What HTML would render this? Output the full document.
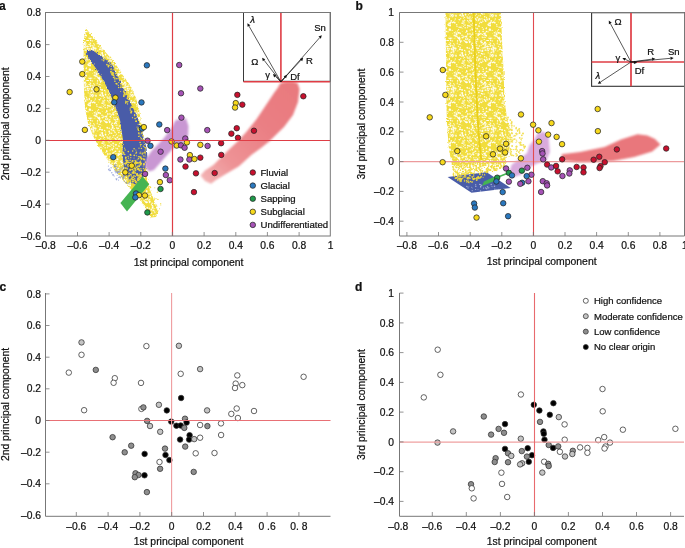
<!DOCTYPE html><html><head><meta charset="utf-8"><style>
html,body{margin:0;padding:0;background:#fff;width:685px;height:548px;overflow:hidden}
svg{display:block;will-change:transform}
text{font-family:"Liberation Sans", sans-serif;fill:#111;stroke:#111;stroke-width:0.22px}
</style></head><body>
<svg width="685" height="548" viewBox="0 0 685 548">
<defs>
<clipPath id="ca"><rect x="46" y="13" width="284" height="223"/></clipPath>
<clipPath id="cb"><rect x="400" y="13" width="284" height="223"/></clipPath>
<filter id="soft" x="-10%" y="-10%" width="120%" height="120%"><feGaussianBlur stdDeviation="0.6"/></filter>
<filter id="rough" x="-5%" y="-5%" width="110%" height="110%"><feTurbulence type="fractalNoise" baseFrequency="0.7" numOctaves="2" seed="3" result="n"/><feDisplacementMap in="SourceGraphic" in2="n" scale="3" xChannelSelector="R" yChannelSelector="G"/></filter>
<filter id="soft2" x="-10%" y="-10%" width="120%" height="120%"><feGaussianBlur stdDeviation="1.0"/></filter>
<pattern id="wsp" width="40" height="40" patternUnits="userSpaceOnUse"><circle cx="13.0" cy="6.0" r="0.73" fill="#ffffff" fill-opacity="0.85"/><circle cx="2.9" cy="21.4" r="0.58" fill="#ffffff" fill-opacity="0.85"/><circle cx="2.3" cy="20.3" r="0.42" fill="#ffffff" fill-opacity="0.85"/><circle cx="17.3" cy="2.8" r="0.45" fill="#ffffff" fill-opacity="0.85"/><circle cx="17.0" cy="33.1" r="0.46" fill="#ffffff" fill-opacity="0.85"/><circle cx="8.9" cy="25.1" r="0.87" fill="#ffffff" fill-opacity="0.85"/><circle cx="23.1" cy="15.9" r="0.89" fill="#ffffff" fill-opacity="0.85"/><circle cx="1.9" cy="34.3" r="0.54" fill="#ffffff" fill-opacity="0.85"/><circle cx="5.8" cy="4.7" r="0.55" fill="#ffffff" fill-opacity="0.85"/><circle cx="32.6" cy="7.2" r="0.69" fill="#ffffff" fill-opacity="0.85"/><circle cx="25.6" cy="14.9" r="0.67" fill="#ffffff" fill-opacity="0.85"/><circle cx="2.5" cy="2.4" r="0.50" fill="#ffffff" fill-opacity="0.85"/><circle cx="27.2" cy="17.1" r="0.56" fill="#ffffff" fill-opacity="0.85"/><circle cx="23.4" cy="18.1" r="0.55" fill="#ffffff" fill-opacity="0.85"/><circle cx="31.8" cy="28.0" r="0.52" fill="#ffffff" fill-opacity="0.85"/><circle cx="23.0" cy="21.0" r="0.84" fill="#ffffff" fill-opacity="0.85"/><circle cx="29.2" cy="11.5" r="0.89" fill="#ffffff" fill-opacity="0.85"/><circle cx="4.7" cy="16.7" r="0.78" fill="#ffffff" fill-opacity="0.85"/><circle cx="6.1" cy="19.6" r="0.42" fill="#ffffff" fill-opacity="0.85"/><circle cx="26.7" cy="30.6" r="0.69" fill="#ffffff" fill-opacity="0.85"/><circle cx="35.0" cy="12.5" r="0.75" fill="#ffffff" fill-opacity="0.85"/><circle cx="23.8" cy="23.2" r="0.63" fill="#ffffff" fill-opacity="0.85"/><circle cx="33.6" cy="37.8" r="0.64" fill="#ffffff" fill-opacity="0.85"/><circle cx="26.6" cy="2.4" r="0.75" fill="#ffffff" fill-opacity="0.85"/><circle cx="25.9" cy="39.7" r="0.81" fill="#ffffff" fill-opacity="0.85"/><circle cx="11.4" cy="15.4" r="0.73" fill="#ffffff" fill-opacity="0.85"/><circle cx="0.9" cy="18.5" r="0.48" fill="#ffffff" fill-opacity="0.85"/><circle cx="4.7" cy="2.4" r="0.78" fill="#ffffff" fill-opacity="0.85"/><circle cx="5.2" cy="9.9" r="0.60" fill="#ffffff" fill-opacity="0.85"/><circle cx="34.9" cy="3.2" r="0.62" fill="#ffffff" fill-opacity="0.85"/><circle cx="22.0" cy="35.3" r="0.81" fill="#ffffff" fill-opacity="0.85"/><circle cx="34.6" cy="11.1" r="0.61" fill="#ffffff" fill-opacity="0.85"/><circle cx="14.4" cy="35.4" r="0.88" fill="#ffffff" fill-opacity="0.85"/><circle cx="6.0" cy="7.0" r="0.52" fill="#ffffff" fill-opacity="0.85"/><circle cx="9.3" cy="19.4" r="0.69" fill="#ffffff" fill-opacity="0.85"/><circle cx="10.5" cy="0.2" r="0.61" fill="#ffffff" fill-opacity="0.85"/><circle cx="14.8" cy="22.7" r="0.88" fill="#ffffff" fill-opacity="0.85"/><circle cx="27.6" cy="20.6" r="0.71" fill="#ffffff" fill-opacity="0.85"/><circle cx="27.0" cy="2.2" r="0.85" fill="#ffffff" fill-opacity="0.85"/><circle cx="31.2" cy="35.0" r="0.80" fill="#ffffff" fill-opacity="0.85"/><circle cx="15.7" cy="16.0" r="0.45" fill="#ffffff" fill-opacity="0.85"/><circle cx="25.4" cy="2.5" r="0.43" fill="#ffffff" fill-opacity="0.85"/><circle cx="8.4" cy="6.5" r="0.57" fill="#ffffff" fill-opacity="0.85"/><circle cx="2.1" cy="0.0" r="0.48" fill="#ffffff" fill-opacity="0.85"/><circle cx="4.1" cy="14.5" r="0.41" fill="#ffffff" fill-opacity="0.85"/><circle cx="35.0" cy="24.6" r="0.47" fill="#ffffff" fill-opacity="0.85"/><circle cx="10.1" cy="13.9" r="0.58" fill="#ffffff" fill-opacity="0.85"/><circle cx="4.9" cy="34.0" r="0.90" fill="#ffffff" fill-opacity="0.85"/><circle cx="18.6" cy="19.4" r="0.44" fill="#ffffff" fill-opacity="0.85"/><circle cx="4.1" cy="13.7" r="0.53" fill="#ffffff" fill-opacity="0.85"/><circle cx="33.2" cy="6.5" r="0.41" fill="#ffffff" fill-opacity="0.85"/><circle cx="38.0" cy="21.1" r="0.47" fill="#ffffff" fill-opacity="0.85"/><circle cx="21.7" cy="1.1" r="0.66" fill="#ffffff" fill-opacity="0.85"/><circle cx="39.1" cy="34.5" r="0.75" fill="#ffffff" fill-opacity="0.85"/><circle cx="10.4" cy="14.7" r="0.48" fill="#ffffff" fill-opacity="0.85"/><circle cx="30.9" cy="21.3" r="0.79" fill="#ffffff" fill-opacity="0.85"/><circle cx="13.2" cy="8.9" r="0.81" fill="#ffffff" fill-opacity="0.85"/><circle cx="39.4" cy="34.1" r="0.80" fill="#ffffff" fill-opacity="0.85"/><circle cx="32.7" cy="29.6" r="0.51" fill="#ffffff" fill-opacity="0.85"/><circle cx="20.7" cy="14.2" r="0.41" fill="#ffffff" fill-opacity="0.85"/><circle cx="1.1" cy="11.2" r="0.53" fill="#ffffff" fill-opacity="0.85"/><circle cx="27.7" cy="38.3" r="0.62" fill="#ffffff" fill-opacity="0.85"/><circle cx="37.5" cy="39.5" r="0.88" fill="#ffffff" fill-opacity="0.85"/><circle cx="14.6" cy="8.8" r="0.51" fill="#ffffff" fill-opacity="0.85"/><circle cx="7.9" cy="8.2" r="0.71" fill="#ffffff" fill-opacity="0.85"/><circle cx="36.0" cy="33.6" r="0.64" fill="#ffffff" fill-opacity="0.85"/><circle cx="26.1" cy="32.0" r="0.44" fill="#ffffff" fill-opacity="0.85"/><circle cx="26.4" cy="36.4" r="0.79" fill="#ffffff" fill-opacity="0.85"/><circle cx="30.0" cy="19.1" r="0.49" fill="#ffffff" fill-opacity="0.85"/><circle cx="31.6" cy="13.3" r="0.80" fill="#ffffff" fill-opacity="0.85"/><circle cx="38.9" cy="15.8" r="0.60" fill="#ffffff" fill-opacity="0.85"/><circle cx="37.9" cy="29.0" r="0.49" fill="#ffffff" fill-opacity="0.85"/><circle cx="5.1" cy="6.0" r="0.85" fill="#ffffff" fill-opacity="0.85"/><circle cx="32.3" cy="5.8" r="0.81" fill="#ffffff" fill-opacity="0.85"/><circle cx="39.2" cy="26.3" r="0.58" fill="#ffffff" fill-opacity="0.85"/><circle cx="21.9" cy="5.2" r="0.41" fill="#ffffff" fill-opacity="0.85"/><circle cx="38.8" cy="26.0" r="0.66" fill="#ffffff" fill-opacity="0.85"/><circle cx="37.3" cy="17.4" r="0.84" fill="#ffffff" fill-opacity="0.85"/><circle cx="33.0" cy="8.4" r="0.53" fill="#ffffff" fill-opacity="0.85"/><circle cx="11.7" cy="9.6" r="0.69" fill="#ffffff" fill-opacity="0.85"/><circle cx="10.4" cy="16.8" r="0.47" fill="#ffffff" fill-opacity="0.85"/><circle cx="36.4" cy="14.2" r="0.63" fill="#ffffff" fill-opacity="0.85"/><circle cx="23.3" cy="36.2" r="0.61" fill="#ffffff" fill-opacity="0.85"/><circle cx="36.7" cy="20.1" r="0.67" fill="#ffffff" fill-opacity="0.85"/><circle cx="20.9" cy="0.7" r="0.62" fill="#ffffff" fill-opacity="0.85"/><circle cx="7.3" cy="0.2" r="0.80" fill="#ffffff" fill-opacity="0.85"/><circle cx="6.9" cy="18.9" r="0.76" fill="#ffffff" fill-opacity="0.85"/><circle cx="22.3" cy="13.0" r="0.66" fill="#ffffff" fill-opacity="0.85"/><circle cx="22.2" cy="31.4" r="0.45" fill="#ffffff" fill-opacity="0.85"/><circle cx="22.4" cy="9.9" r="0.54" fill="#ffffff" fill-opacity="0.85"/><circle cx="30.9" cy="20.3" r="0.68" fill="#ffffff" fill-opacity="0.85"/><circle cx="30.4" cy="36.5" r="0.62" fill="#ffffff" fill-opacity="0.85"/><circle cx="24.5" cy="20.2" r="0.66" fill="#ffffff" fill-opacity="0.85"/><circle cx="27.7" cy="18.1" r="0.67" fill="#ffffff" fill-opacity="0.85"/><circle cx="19.1" cy="37.7" r="0.75" fill="#ffffff" fill-opacity="0.85"/><circle cx="35.1" cy="37.7" r="0.53" fill="#ffffff" fill-opacity="0.85"/><circle cx="22.4" cy="37.7" r="0.82" fill="#ffffff" fill-opacity="0.85"/><circle cx="5.5" cy="4.9" r="0.62" fill="#ffffff" fill-opacity="0.85"/><circle cx="2.9" cy="9.6" r="0.44" fill="#ffffff" fill-opacity="0.85"/><circle cx="26.8" cy="31.4" r="0.85" fill="#ffffff" fill-opacity="0.85"/><circle cx="6.2" cy="28.6" r="0.73" fill="#ffffff" fill-opacity="0.85"/><circle cx="5.7" cy="35.3" r="0.88" fill="#ffffff" fill-opacity="0.85"/><circle cx="8.8" cy="38.1" r="0.60" fill="#ffffff" fill-opacity="0.85"/><circle cx="19.5" cy="39.6" r="0.82" fill="#ffffff" fill-opacity="0.85"/><circle cx="6.5" cy="17.3" r="0.66" fill="#ffffff" fill-opacity="0.85"/><circle cx="13.6" cy="7.8" r="0.56" fill="#ffffff" fill-opacity="0.85"/><circle cx="28.9" cy="0.8" r="0.68" fill="#ffffff" fill-opacity="0.85"/><circle cx="17.6" cy="0.7" r="0.57" fill="#ffffff" fill-opacity="0.85"/><circle cx="25.0" cy="20.5" r="0.43" fill="#ffffff" fill-opacity="0.85"/><circle cx="39.4" cy="31.5" r="0.89" fill="#ffffff" fill-opacity="0.85"/><circle cx="4.2" cy="10.6" r="0.42" fill="#ffffff" fill-opacity="0.85"/><circle cx="31.2" cy="10.8" r="0.46" fill="#ffffff" fill-opacity="0.85"/><circle cx="16.9" cy="36.5" r="0.81" fill="#ffffff" fill-opacity="0.85"/><circle cx="10.3" cy="6.0" r="0.86" fill="#ffffff" fill-opacity="0.85"/><circle cx="22.8" cy="28.0" r="0.44" fill="#ffffff" fill-opacity="0.85"/><circle cx="2.3" cy="27.5" r="0.61" fill="#ffffff" fill-opacity="0.85"/><circle cx="2.9" cy="37.5" r="0.72" fill="#ffffff" fill-opacity="0.85"/><circle cx="32.1" cy="3.3" r="0.83" fill="#ffffff" fill-opacity="0.85"/><circle cx="2.7" cy="34.5" r="0.63" fill="#ffffff" fill-opacity="0.85"/><circle cx="13.6" cy="22.1" r="0.86" fill="#ffffff" fill-opacity="0.85"/><circle cx="10.7" cy="5.2" r="0.66" fill="#ffffff" fill-opacity="0.85"/><circle cx="9.5" cy="4.4" r="0.48" fill="#ffffff" fill-opacity="0.85"/><circle cx="2.0" cy="8.1" r="0.56" fill="#ffffff" fill-opacity="0.85"/><circle cx="12.2" cy="30.4" r="0.54" fill="#ffffff" fill-opacity="0.85"/><circle cx="20.0" cy="7.1" r="0.57" fill="#ffffff" fill-opacity="0.85"/><circle cx="0.7" cy="10.0" r="0.41" fill="#ffffff" fill-opacity="0.85"/><circle cx="29.3" cy="22.0" r="0.49" fill="#ffffff" fill-opacity="0.85"/><circle cx="19.0" cy="37.4" r="0.45" fill="#ffffff" fill-opacity="0.85"/><circle cx="32.8" cy="17.3" r="0.65" fill="#ffffff" fill-opacity="0.85"/><circle cx="33.4" cy="15.7" r="0.65" fill="#ffffff" fill-opacity="0.85"/><circle cx="27.5" cy="39.3" r="0.57" fill="#ffffff" fill-opacity="0.85"/><circle cx="33.3" cy="28.3" r="0.72" fill="#ffffff" fill-opacity="0.85"/><circle cx="16.2" cy="13.9" r="0.43" fill="#ffffff" fill-opacity="0.85"/><circle cx="5.2" cy="2.8" r="0.77" fill="#ffffff" fill-opacity="0.85"/><circle cx="10.2" cy="6.5" r="0.44" fill="#ffffff" fill-opacity="0.85"/><circle cx="33.7" cy="34.8" r="0.74" fill="#ffffff" fill-opacity="0.85"/><circle cx="11.3" cy="9.7" r="0.55" fill="#ffffff" fill-opacity="0.85"/><circle cx="18.4" cy="6.3" r="0.62" fill="#ffffff" fill-opacity="0.85"/><circle cx="10.5" cy="38.5" r="0.89" fill="#ffffff" fill-opacity="0.85"/><circle cx="21.9" cy="9.8" r="0.88" fill="#ffffff" fill-opacity="0.85"/><circle cx="12.4" cy="14.3" r="0.40" fill="#ffffff" fill-opacity="0.85"/><circle cx="15.3" cy="19.0" r="0.65" fill="#ffffff" fill-opacity="0.85"/><circle cx="8.0" cy="20.2" r="0.40" fill="#ffffff" fill-opacity="0.85"/><circle cx="10.6" cy="3.6" r="0.60" fill="#ffffff" fill-opacity="0.85"/><circle cx="1.7" cy="0.9" r="0.55" fill="#ffffff" fill-opacity="0.85"/><circle cx="9.3" cy="23.4" r="0.66" fill="#ffffff" fill-opacity="0.85"/><circle cx="30.0" cy="26.3" r="0.76" fill="#ffffff" fill-opacity="0.85"/><circle cx="35.2" cy="15.6" r="0.56" fill="#ffffff" fill-opacity="0.85"/><circle cx="39.4" cy="6.0" r="0.76" fill="#ffffff" fill-opacity="0.85"/><circle cx="25.7" cy="1.8" r="0.82" fill="#ffffff" fill-opacity="0.85"/><circle cx="35.7" cy="25.1" r="0.77" fill="#ffffff" fill-opacity="0.85"/><circle cx="32.5" cy="5.6" r="0.66" fill="#ffffff" fill-opacity="0.85"/><circle cx="20.2" cy="33.4" r="0.80" fill="#ffffff" fill-opacity="0.85"/><circle cx="33.1" cy="23.4" r="0.85" fill="#ffffff" fill-opacity="0.85"/><circle cx="27.3" cy="27.7" r="0.51" fill="#ffffff" fill-opacity="0.85"/><circle cx="1.2" cy="5.3" r="0.58" fill="#ffffff" fill-opacity="0.85"/><circle cx="4.2" cy="33.4" r="0.68" fill="#ffffff" fill-opacity="0.85"/><circle cx="25.1" cy="25.0" r="0.74" fill="#ffffff" fill-opacity="0.85"/><circle cx="19.6" cy="0.1" r="0.80" fill="#ffffff" fill-opacity="0.85"/><circle cx="29.9" cy="20.1" r="0.67" fill="#ffffff" fill-opacity="0.85"/><circle cx="26.4" cy="2.6" r="0.77" fill="#ffffff" fill-opacity="0.85"/><circle cx="10.1" cy="3.0" r="0.53" fill="#ffffff" fill-opacity="0.85"/><circle cx="29.2" cy="8.2" r="0.77" fill="#ffffff" fill-opacity="0.85"/><circle cx="39.0" cy="19.8" r="0.59" fill="#ffffff" fill-opacity="0.85"/><circle cx="19.2" cy="27.3" r="0.78" fill="#ffffff" fill-opacity="0.85"/><circle cx="24.7" cy="25.7" r="0.44" fill="#ffffff" fill-opacity="0.85"/><circle cx="5.9" cy="10.2" r="0.77" fill="#ffffff" fill-opacity="0.85"/><circle cx="12.2" cy="22.7" r="0.41" fill="#ffffff" fill-opacity="0.85"/><circle cx="2.4" cy="10.8" r="0.74" fill="#ffffff" fill-opacity="0.85"/><circle cx="27.7" cy="27.0" r="0.55" fill="#ffffff" fill-opacity="0.85"/><circle cx="20.7" cy="18.6" r="0.63" fill="#ffffff" fill-opacity="0.85"/><circle cx="4.7" cy="35.7" r="0.50" fill="#ffffff" fill-opacity="0.85"/><circle cx="39.1" cy="37.5" r="0.41" fill="#ffffff" fill-opacity="0.85"/><circle cx="18.4" cy="32.8" r="0.88" fill="#ffffff" fill-opacity="0.85"/><circle cx="18.0" cy="10.7" r="0.50" fill="#ffffff" fill-opacity="0.85"/><circle cx="37.8" cy="8.4" r="0.69" fill="#ffffff" fill-opacity="0.85"/><circle cx="5.7" cy="21.0" r="0.88" fill="#ffffff" fill-opacity="0.85"/><circle cx="5.3" cy="32.8" r="0.65" fill="#ffffff" fill-opacity="0.85"/><circle cx="35.5" cy="28.1" r="0.52" fill="#ffffff" fill-opacity="0.85"/><circle cx="35.9" cy="19.4" r="0.41" fill="#ffffff" fill-opacity="0.85"/><circle cx="0.1" cy="19.7" r="0.63" fill="#ffffff" fill-opacity="0.85"/><circle cx="12.1" cy="5.6" r="0.57" fill="#ffffff" fill-opacity="0.85"/><circle cx="12.6" cy="33.6" r="0.40" fill="#ffffff" fill-opacity="0.85"/><circle cx="30.0" cy="33.6" r="0.46" fill="#ffffff" fill-opacity="0.85"/><circle cx="37.1" cy="28.5" r="0.85" fill="#ffffff" fill-opacity="0.85"/><circle cx="11.6" cy="14.9" r="0.60" fill="#ffffff" fill-opacity="0.85"/><circle cx="40.0" cy="23.6" r="0.58" fill="#ffffff" fill-opacity="0.85"/><circle cx="17.1" cy="11.0" r="0.42" fill="#ffffff" fill-opacity="0.85"/><circle cx="4.1" cy="33.4" r="0.54" fill="#ffffff" fill-opacity="0.85"/><circle cx="37.4" cy="10.0" r="0.53" fill="#ffffff" fill-opacity="0.85"/><circle cx="20.4" cy="7.6" r="0.59" fill="#ffffff" fill-opacity="0.85"/><circle cx="38.2" cy="35.4" r="0.81" fill="#ffffff" fill-opacity="0.85"/><circle cx="25.2" cy="36.5" r="0.87" fill="#ffffff" fill-opacity="0.85"/><circle cx="22.0" cy="28.8" r="0.42" fill="#ffffff" fill-opacity="0.85"/><circle cx="29.3" cy="18.0" r="0.78" fill="#ffffff" fill-opacity="0.85"/><circle cx="25.8" cy="11.4" r="0.42" fill="#ffffff" fill-opacity="0.85"/><circle cx="37.1" cy="5.1" r="0.64" fill="#ffffff" fill-opacity="0.85"/><circle cx="13.7" cy="11.9" r="0.77" fill="#ffffff" fill-opacity="0.85"/><circle cx="39.1" cy="10.4" r="0.73" fill="#ffffff" fill-opacity="0.85"/><circle cx="12.0" cy="22.3" r="0.60" fill="#ffffff" fill-opacity="0.85"/><circle cx="6.7" cy="6.5" r="0.50" fill="#ffffff" fill-opacity="0.85"/><circle cx="36.2" cy="19.9" r="0.51" fill="#ffffff" fill-opacity="0.85"/><circle cx="36.3" cy="39.9" r="0.62" fill="#ffffff" fill-opacity="0.85"/><circle cx="5.6" cy="7.7" r="0.45" fill="#ffffff" fill-opacity="0.85"/><circle cx="13.7" cy="3.6" r="0.52" fill="#ffffff" fill-opacity="0.85"/><circle cx="10.3" cy="22.8" r="0.84" fill="#ffffff" fill-opacity="0.85"/><circle cx="30.0" cy="16.5" r="0.61" fill="#ffffff" fill-opacity="0.85"/><circle cx="21.0" cy="15.1" r="0.57" fill="#ffffff" fill-opacity="0.85"/><circle cx="2.5" cy="11.1" r="0.88" fill="#ffffff" fill-opacity="0.85"/><circle cx="5.0" cy="20.1" r="0.71" fill="#ffffff" fill-opacity="0.85"/><circle cx="34.5" cy="8.6" r="0.54" fill="#ffffff" fill-opacity="0.85"/><circle cx="9.9" cy="16.0" r="0.62" fill="#ffffff" fill-opacity="0.85"/><circle cx="38.2" cy="33.9" r="0.84" fill="#ffffff" fill-opacity="0.85"/><circle cx="0.9" cy="1.3" r="0.75" fill="#ffffff" fill-opacity="0.85"/><circle cx="35.8" cy="18.9" r="0.69" fill="#ffffff" fill-opacity="0.85"/><circle cx="0.0" cy="15.7" r="0.86" fill="#ffffff" fill-opacity="0.85"/><circle cx="33.0" cy="34.2" r="0.89" fill="#ffffff" fill-opacity="0.85"/><circle cx="9.9" cy="4.4" r="0.48" fill="#ffffff" fill-opacity="0.85"/><circle cx="20.9" cy="27.3" r="0.87" fill="#ffffff" fill-opacity="0.85"/><circle cx="28.9" cy="25.9" r="0.78" fill="#ffffff" fill-opacity="0.85"/><circle cx="18.3" cy="22.1" r="0.42" fill="#ffffff" fill-opacity="0.85"/><circle cx="31.3" cy="9.3" r="0.86" fill="#ffffff" fill-opacity="0.85"/><circle cx="25.8" cy="12.2" r="0.46" fill="#ffffff" fill-opacity="0.85"/><circle cx="10.1" cy="25.5" r="0.75" fill="#ffffff" fill-opacity="0.85"/><circle cx="4.5" cy="2.8" r="0.66" fill="#ffffff" fill-opacity="0.85"/><circle cx="23.3" cy="15.5" r="0.51" fill="#ffffff" fill-opacity="0.85"/><circle cx="24.0" cy="0.4" r="0.55" fill="#ffffff" fill-opacity="0.85"/><circle cx="18.4" cy="38.4" r="0.72" fill="#ffffff" fill-opacity="0.85"/><circle cx="35.4" cy="19.0" r="0.52" fill="#ffffff" fill-opacity="0.85"/><circle cx="9.9" cy="38.4" r="0.75" fill="#ffffff" fill-opacity="0.85"/><circle cx="12.3" cy="0.9" r="0.65" fill="#ffffff" fill-opacity="0.85"/><circle cx="27.0" cy="16.8" r="0.53" fill="#ffffff" fill-opacity="0.85"/><circle cx="26.7" cy="37.0" r="0.51" fill="#ffffff" fill-opacity="0.85"/><circle cx="1.4" cy="13.5" r="0.61" fill="#ffffff" fill-opacity="0.85"/><circle cx="27.3" cy="7.9" r="0.80" fill="#ffffff" fill-opacity="0.85"/><circle cx="29.6" cy="20.2" r="0.50" fill="#ffffff" fill-opacity="0.85"/><circle cx="38.8" cy="12.5" r="0.81" fill="#ffffff" fill-opacity="0.85"/><circle cx="9.2" cy="8.9" r="0.78" fill="#ffffff" fill-opacity="0.85"/><circle cx="11.8" cy="38.1" r="0.65" fill="#ffffff" fill-opacity="0.85"/><circle cx="7.5" cy="8.9" r="0.61" fill="#ffffff" fill-opacity="0.85"/><circle cx="26.6" cy="38.0" r="0.47" fill="#ffffff" fill-opacity="0.85"/><circle cx="15.7" cy="8.5" r="0.89" fill="#ffffff" fill-opacity="0.85"/><circle cx="5.7" cy="2.1" r="0.43" fill="#ffffff" fill-opacity="0.85"/><circle cx="15.7" cy="35.9" r="0.84" fill="#ffffff" fill-opacity="0.85"/><circle cx="29.3" cy="39.9" r="0.87" fill="#ffffff" fill-opacity="0.85"/><circle cx="13.2" cy="7.4" r="0.87" fill="#ffffff" fill-opacity="0.85"/><circle cx="29.9" cy="1.3" r="0.73" fill="#ffffff" fill-opacity="0.85"/><circle cx="15.1" cy="15.0" r="0.57" fill="#ffffff" fill-opacity="0.85"/><circle cx="6.8" cy="0.1" r="0.54" fill="#ffffff" fill-opacity="0.85"/><circle cx="14.1" cy="38.2" r="0.46" fill="#ffffff" fill-opacity="0.85"/><circle cx="38.6" cy="8.3" r="0.58" fill="#ffffff" fill-opacity="0.85"/><circle cx="32.9" cy="32.9" r="0.62" fill="#ffffff" fill-opacity="0.85"/><circle cx="2.0" cy="18.9" r="0.59" fill="#ffffff" fill-opacity="0.85"/><circle cx="36.8" cy="7.7" r="0.58" fill="#ffffff" fill-opacity="0.85"/><circle cx="35.9" cy="1.2" r="0.61" fill="#ffffff" fill-opacity="0.85"/><circle cx="32.5" cy="30.7" r="0.42" fill="#ffffff" fill-opacity="0.85"/><circle cx="1.4" cy="2.5" r="0.86" fill="#ffffff" fill-opacity="0.85"/><circle cx="10.3" cy="29.9" r="0.85" fill="#ffffff" fill-opacity="0.85"/><circle cx="13.6" cy="10.9" r="0.88" fill="#ffffff" fill-opacity="0.85"/><circle cx="24.7" cy="10.5" r="0.76" fill="#ffffff" fill-opacity="0.85"/><circle cx="12.7" cy="11.0" r="0.40" fill="#ffffff" fill-opacity="0.85"/><circle cx="30.2" cy="36.7" r="0.72" fill="#ffffff" fill-opacity="0.85"/><circle cx="37.7" cy="1.0" r="0.52" fill="#ffffff" fill-opacity="0.85"/><circle cx="19.0" cy="38.3" r="0.88" fill="#ffffff" fill-opacity="0.85"/><circle cx="15.5" cy="10.0" r="0.61" fill="#ffffff" fill-opacity="0.85"/><circle cx="19.7" cy="37.1" r="0.49" fill="#ffffff" fill-opacity="0.85"/><circle cx="32.1" cy="29.5" r="0.81" fill="#ffffff" fill-opacity="0.85"/><circle cx="30.9" cy="24.3" r="0.56" fill="#ffffff" fill-opacity="0.85"/><circle cx="12.8" cy="14.5" r="0.79" fill="#ffffff" fill-opacity="0.85"/><circle cx="3.2" cy="7.9" r="0.78" fill="#ffffff" fill-opacity="0.85"/><circle cx="9.9" cy="2.6" r="0.42" fill="#ffffff" fill-opacity="0.85"/><circle cx="22.1" cy="13.0" r="0.89" fill="#ffffff" fill-opacity="0.85"/><circle cx="35.3" cy="39.5" r="0.53" fill="#ffffff" fill-opacity="0.85"/><circle cx="3.4" cy="3.9" r="0.65" fill="#ffffff" fill-opacity="0.85"/><circle cx="28.4" cy="17.9" r="0.52" fill="#ffffff" fill-opacity="0.85"/><circle cx="16.7" cy="24.8" r="0.74" fill="#ffffff" fill-opacity="0.85"/><circle cx="29.9" cy="33.9" r="0.73" fill="#ffffff" fill-opacity="0.85"/><circle cx="4.8" cy="33.6" r="0.55" fill="#ffffff" fill-opacity="0.85"/><circle cx="22.7" cy="14.9" r="0.77" fill="#ffffff" fill-opacity="0.85"/><circle cx="8.0" cy="9.9" r="0.52" fill="#ffffff" fill-opacity="0.85"/><circle cx="6.1" cy="35.4" r="0.69" fill="#ffffff" fill-opacity="0.85"/><circle cx="13.1" cy="15.8" r="0.90" fill="#ffffff" fill-opacity="0.85"/><circle cx="20.3" cy="9.3" r="0.80" fill="#ffffff" fill-opacity="0.85"/><circle cx="26.1" cy="39.6" r="0.45" fill="#ffffff" fill-opacity="0.85"/><circle cx="19.0" cy="32.8" r="0.82" fill="#ffffff" fill-opacity="0.85"/><circle cx="36.6" cy="1.6" r="0.55" fill="#ffffff" fill-opacity="0.85"/><circle cx="4.8" cy="7.6" r="0.89" fill="#ffffff" fill-opacity="0.85"/><circle cx="23.3" cy="37.2" r="0.59" fill="#ffffff" fill-opacity="0.85"/><circle cx="34.6" cy="18.0" r="0.53" fill="#ffffff" fill-opacity="0.85"/><circle cx="31.1" cy="37.8" r="0.45" fill="#ffffff" fill-opacity="0.85"/><circle cx="23.8" cy="24.8" r="0.51" fill="#ffffff" fill-opacity="0.85"/><circle cx="14.7" cy="5.7" r="0.50" fill="#ffffff" fill-opacity="0.85"/><circle cx="10.2" cy="24.0" r="0.73" fill="#ffffff" fill-opacity="0.85"/><circle cx="8.1" cy="0.5" r="0.56" fill="#ffffff" fill-opacity="0.85"/><circle cx="27.1" cy="7.4" r="0.56" fill="#ffffff" fill-opacity="0.85"/><circle cx="8.1" cy="31.8" r="0.67" fill="#ffffff" fill-opacity="0.85"/><circle cx="2.5" cy="4.1" r="0.60" fill="#ffffff" fill-opacity="0.85"/><circle cx="22.0" cy="25.6" r="0.45" fill="#ffffff" fill-opacity="0.85"/><circle cx="6.5" cy="27.8" r="0.60" fill="#ffffff" fill-opacity="0.85"/><circle cx="11.3" cy="12.3" r="0.88" fill="#ffffff" fill-opacity="0.85"/><circle cx="12.5" cy="22.7" r="0.58" fill="#ffffff" fill-opacity="0.85"/><circle cx="16.7" cy="34.6" r="0.90" fill="#ffffff" fill-opacity="0.85"/><circle cx="14.6" cy="7.9" r="0.76" fill="#ffffff" fill-opacity="0.85"/><circle cx="8.1" cy="0.2" r="0.85" fill="#ffffff" fill-opacity="0.85"/><circle cx="17.0" cy="32.8" r="0.60" fill="#ffffff" fill-opacity="0.85"/><circle cx="35.3" cy="18.4" r="0.48" fill="#ffffff" fill-opacity="0.85"/><circle cx="0.6" cy="22.1" r="0.72" fill="#ffffff" fill-opacity="0.85"/><circle cx="36.4" cy="3.6" r="0.71" fill="#ffffff" fill-opacity="0.85"/><circle cx="14.8" cy="20.2" r="0.47" fill="#ffffff" fill-opacity="0.85"/><circle cx="11.3" cy="20.8" r="0.86" fill="#ffffff" fill-opacity="0.85"/><circle cx="4.4" cy="19.6" r="0.80" fill="#ffffff" fill-opacity="0.85"/><circle cx="38.7" cy="7.9" r="0.46" fill="#ffffff" fill-opacity="0.85"/><circle cx="37.7" cy="39.0" r="0.64" fill="#ffffff" fill-opacity="0.85"/><circle cx="2.1" cy="37.0" r="0.59" fill="#ffffff" fill-opacity="0.85"/><circle cx="36.2" cy="24.8" r="0.81" fill="#ffffff" fill-opacity="0.85"/><circle cx="6.4" cy="31.4" r="0.51" fill="#ffffff" fill-opacity="0.85"/><circle cx="16.2" cy="33.9" r="0.81" fill="#ffffff" fill-opacity="0.85"/><circle cx="7.3" cy="8.7" r="0.60" fill="#ffffff" fill-opacity="0.85"/><circle cx="20.7" cy="15.3" r="0.46" fill="#ffffff" fill-opacity="0.85"/><circle cx="9.9" cy="29.0" r="0.85" fill="#ffffff" fill-opacity="0.85"/><circle cx="1.6" cy="22.5" r="0.78" fill="#ffffff" fill-opacity="0.85"/><circle cx="1.5" cy="33.5" r="0.46" fill="#ffffff" fill-opacity="0.85"/><circle cx="24.0" cy="22.0" r="0.71" fill="#ffffff" fill-opacity="0.85"/><circle cx="12.2" cy="16.8" r="0.69" fill="#ffffff" fill-opacity="0.85"/><circle cx="17.0" cy="26.4" r="0.62" fill="#ffffff" fill-opacity="0.85"/><circle cx="17.5" cy="0.9" r="0.71" fill="#ffffff" fill-opacity="0.85"/><circle cx="19.6" cy="9.4" r="0.78" fill="#ffffff" fill-opacity="0.85"/><circle cx="31.2" cy="18.3" r="0.49" fill="#ffffff" fill-opacity="0.85"/><circle cx="18.9" cy="4.3" r="0.46" fill="#ffffff" fill-opacity="0.85"/><circle cx="17.2" cy="3.7" r="0.62" fill="#ffffff" fill-opacity="0.85"/><circle cx="20.4" cy="1.6" r="0.72" fill="#ffffff" fill-opacity="0.85"/><circle cx="3.3" cy="29.3" r="0.79" fill="#ffffff" fill-opacity="0.85"/><circle cx="20.5" cy="2.2" r="0.65" fill="#ffffff" fill-opacity="0.85"/><circle cx="15.1" cy="38.0" r="0.47" fill="#ffffff" fill-opacity="0.85"/><circle cx="34.3" cy="39.8" r="0.77" fill="#ffffff" fill-opacity="0.85"/><circle cx="32.6" cy="7.7" r="0.89" fill="#ffffff" fill-opacity="0.85"/><circle cx="19.7" cy="38.3" r="0.86" fill="#ffffff" fill-opacity="0.85"/><circle cx="6.6" cy="31.5" r="0.87" fill="#ffffff" fill-opacity="0.85"/><circle cx="2.6" cy="14.0" r="0.78" fill="#ffffff" fill-opacity="0.85"/><circle cx="6.4" cy="35.9" r="0.54" fill="#ffffff" fill-opacity="0.85"/><circle cx="32.6" cy="5.7" r="0.65" fill="#ffffff" fill-opacity="0.85"/><circle cx="36.8" cy="8.3" r="0.53" fill="#ffffff" fill-opacity="0.85"/><circle cx="20.2" cy="12.8" r="0.42" fill="#ffffff" fill-opacity="0.85"/><circle cx="7.3" cy="6.4" r="0.87" fill="#ffffff" fill-opacity="0.85"/><circle cx="27.2" cy="35.8" r="0.48" fill="#ffffff" fill-opacity="0.85"/><circle cx="31.4" cy="4.6" r="0.67" fill="#ffffff" fill-opacity="0.85"/><circle cx="25.5" cy="14.4" r="0.84" fill="#ffffff" fill-opacity="0.85"/><circle cx="22.2" cy="23.2" r="0.84" fill="#ffffff" fill-opacity="0.85"/><circle cx="4.2" cy="39.7" r="0.71" fill="#ffffff" fill-opacity="0.85"/><circle cx="15.8" cy="31.9" r="0.53" fill="#ffffff" fill-opacity="0.85"/><circle cx="39.6" cy="23.1" r="0.58" fill="#ffffff" fill-opacity="0.85"/><circle cx="30.6" cy="17.7" r="0.49" fill="#ffffff" fill-opacity="0.85"/><circle cx="29.7" cy="1.9" r="0.81" fill="#ffffff" fill-opacity="0.85"/><circle cx="10.1" cy="25.6" r="0.89" fill="#ffffff" fill-opacity="0.85"/><circle cx="23.4" cy="26.5" r="0.56" fill="#ffffff" fill-opacity="0.85"/><circle cx="0.1" cy="1.4" r="0.47" fill="#ffffff" fill-opacity="0.85"/><circle cx="24.6" cy="17.3" r="0.66" fill="#ffffff" fill-opacity="0.85"/><circle cx="35.8" cy="5.3" r="0.51" fill="#ffffff" fill-opacity="0.85"/><circle cx="26.1" cy="0.9" r="0.40" fill="#ffffff" fill-opacity="0.85"/><circle cx="14.2" cy="4.3" r="0.58" fill="#ffffff" fill-opacity="0.85"/><circle cx="9.0" cy="23.3" r="0.69" fill="#ffffff" fill-opacity="0.85"/><circle cx="8.2" cy="25.0" r="0.64" fill="#ffffff" fill-opacity="0.85"/><circle cx="5.4" cy="37.5" r="0.52" fill="#ffffff" fill-opacity="0.85"/><circle cx="6.0" cy="3.8" r="0.72" fill="#ffffff" fill-opacity="0.85"/><circle cx="34.9" cy="31.3" r="0.60" fill="#ffffff" fill-opacity="0.85"/><circle cx="10.6" cy="0.5" r="0.72" fill="#ffffff" fill-opacity="0.85"/><circle cx="22.5" cy="14.0" r="0.72" fill="#ffffff" fill-opacity="0.85"/><circle cx="17.8" cy="37.5" r="0.77" fill="#ffffff" fill-opacity="0.85"/><circle cx="9.9" cy="36.1" r="0.42" fill="#ffffff" fill-opacity="0.85"/><circle cx="21.3" cy="16.2" r="0.52" fill="#ffffff" fill-opacity="0.85"/><circle cx="2.3" cy="31.2" r="0.41" fill="#ffffff" fill-opacity="0.85"/><circle cx="22.0" cy="37.6" r="0.47" fill="#ffffff" fill-opacity="0.85"/><circle cx="8.0" cy="24.3" r="0.65" fill="#ffffff" fill-opacity="0.85"/><circle cx="25.7" cy="32.5" r="0.49" fill="#ffffff" fill-opacity="0.85"/><circle cx="12.4" cy="12.0" r="0.42" fill="#ffffff" fill-opacity="0.85"/><circle cx="35.6" cy="31.3" r="0.76" fill="#ffffff" fill-opacity="0.85"/><circle cx="0.3" cy="33.8" r="0.77" fill="#ffffff" fill-opacity="0.85"/><circle cx="18.6" cy="29.7" r="0.63" fill="#ffffff" fill-opacity="0.85"/><circle cx="9.0" cy="4.2" r="0.52" fill="#ffffff" fill-opacity="0.85"/><circle cx="1.6" cy="13.4" r="0.77" fill="#ffffff" fill-opacity="0.85"/><circle cx="27.8" cy="33.8" r="0.76" fill="#ffffff" fill-opacity="0.85"/><circle cx="10.6" cy="22.2" r="0.62" fill="#ffffff" fill-opacity="0.85"/><circle cx="31.5" cy="20.9" r="0.53" fill="#ffffff" fill-opacity="0.85"/><circle cx="25.7" cy="38.6" r="0.51" fill="#ffffff" fill-opacity="0.85"/><circle cx="35.2" cy="0.6" r="0.53" fill="#ffffff" fill-opacity="0.85"/><circle cx="9.4" cy="29.8" r="0.87" fill="#ffffff" fill-opacity="0.85"/><circle cx="29.8" cy="13.1" r="0.84" fill="#ffffff" fill-opacity="0.85"/><circle cx="13.1" cy="9.6" r="0.85" fill="#ffffff" fill-opacity="0.85"/><circle cx="25.2" cy="27.7" r="0.73" fill="#ffffff" fill-opacity="0.85"/><circle cx="39.2" cy="18.8" r="0.82" fill="#ffffff" fill-opacity="0.85"/><circle cx="27.9" cy="34.3" r="0.62" fill="#ffffff" fill-opacity="0.85"/><circle cx="29.0" cy="22.8" r="0.55" fill="#ffffff" fill-opacity="0.85"/><circle cx="8.5" cy="24.9" r="0.44" fill="#ffffff" fill-opacity="0.85"/><circle cx="36.4" cy="5.8" r="0.41" fill="#ffffff" fill-opacity="0.85"/><circle cx="4.3" cy="37.2" r="0.57" fill="#ffffff" fill-opacity="0.85"/><circle cx="5.7" cy="1.1" r="0.42" fill="#ffffff" fill-opacity="0.85"/><circle cx="27.7" cy="25.4" r="0.75" fill="#ffffff" fill-opacity="0.85"/><circle cx="29.5" cy="2.6" r="0.70" fill="#ffffff" fill-opacity="0.85"/><circle cx="14.5" cy="32.7" r="0.81" fill="#ffffff" fill-opacity="0.85"/><circle cx="35.7" cy="2.6" r="0.83" fill="#ffffff" fill-opacity="0.85"/><circle cx="36.6" cy="37.8" r="0.45" fill="#ffffff" fill-opacity="0.85"/><circle cx="8.2" cy="4.5" r="0.42" fill="#ffffff" fill-opacity="0.85"/><circle cx="33.9" cy="32.5" r="0.72" fill="#ffffff" fill-opacity="0.85"/><circle cx="33.0" cy="25.3" r="0.54" fill="#ffffff" fill-opacity="0.85"/><circle cx="4.0" cy="3.9" r="0.78" fill="#ffffff" fill-opacity="0.85"/><circle cx="8.2" cy="12.8" r="0.61" fill="#ffffff" fill-opacity="0.85"/><circle cx="0.8" cy="10.3" r="0.54" fill="#ffffff" fill-opacity="0.85"/><circle cx="28.6" cy="14.7" r="0.56" fill="#ffffff" fill-opacity="0.85"/><circle cx="38.6" cy="20.1" r="0.83" fill="#ffffff" fill-opacity="0.85"/><circle cx="24.7" cy="1.2" r="0.61" fill="#ffffff" fill-opacity="0.85"/><circle cx="17.5" cy="30.9" r="0.57" fill="#ffffff" fill-opacity="0.85"/><circle cx="28.2" cy="21.5" r="0.51" fill="#ffffff" fill-opacity="0.85"/><circle cx="34.5" cy="3.6" r="0.81" fill="#ffffff" fill-opacity="0.85"/><circle cx="6.8" cy="0.1" r="0.50" fill="#ffffff" fill-opacity="0.85"/><circle cx="30.5" cy="39.1" r="0.40" fill="#ffffff" fill-opacity="0.85"/><circle cx="19.6" cy="19.7" r="0.80" fill="#ffffff" fill-opacity="0.85"/><circle cx="7.4" cy="19.8" r="0.57" fill="#ffffff" fill-opacity="0.85"/><circle cx="33.3" cy="10.4" r="0.87" fill="#ffffff" fill-opacity="0.85"/><circle cx="11.3" cy="8.6" r="0.75" fill="#ffffff" fill-opacity="0.85"/><circle cx="19.9" cy="4.4" r="0.72" fill="#ffffff" fill-opacity="0.85"/><circle cx="3.2" cy="31.5" r="0.75" fill="#ffffff" fill-opacity="0.85"/><circle cx="31.5" cy="25.1" r="0.58" fill="#ffffff" fill-opacity="0.85"/><circle cx="16.1" cy="15.8" r="0.85" fill="#ffffff" fill-opacity="0.85"/><circle cx="3.4" cy="35.5" r="0.41" fill="#ffffff" fill-opacity="0.85"/><circle cx="8.2" cy="10.5" r="0.85" fill="#ffffff" fill-opacity="0.85"/><circle cx="20.0" cy="15.2" r="0.84" fill="#ffffff" fill-opacity="0.85"/><circle cx="9.3" cy="18.4" r="0.67" fill="#ffffff" fill-opacity="0.85"/><circle cx="30.2" cy="30.1" r="0.72" fill="#ffffff" fill-opacity="0.85"/><circle cx="13.9" cy="13.1" r="0.48" fill="#ffffff" fill-opacity="0.85"/><circle cx="33.7" cy="26.5" r="0.77" fill="#ffffff" fill-opacity="0.85"/></pattern>
<pattern id="ysp" width="30" height="30" patternUnits="userSpaceOnUse"><circle cx="5.1" cy="13.2" r="0.79" fill="#efd93a" fill-opacity="0.9"/><circle cx="17.4" cy="3.8" r="0.63" fill="#efd93a" fill-opacity="0.9"/><circle cx="26.6" cy="7.1" r="0.50" fill="#efd93a" fill-opacity="0.9"/><circle cx="9.0" cy="21.1" r="0.82" fill="#efd93a" fill-opacity="0.9"/><circle cx="4.6" cy="4.7" r="0.52" fill="#efd93a" fill-opacity="0.9"/><circle cx="9.8" cy="15.7" r="0.48" fill="#efd93a" fill-opacity="0.9"/><circle cx="9.8" cy="5.7" r="0.89" fill="#efd93a" fill-opacity="0.9"/><circle cx="21.9" cy="3.1" r="0.88" fill="#efd93a" fill-opacity="0.9"/><circle cx="3.0" cy="11.5" r="0.89" fill="#efd93a" fill-opacity="0.9"/><circle cx="23.8" cy="22.0" r="0.62" fill="#efd93a" fill-opacity="0.9"/><circle cx="5.9" cy="19.1" r="0.45" fill="#efd93a" fill-opacity="0.9"/><circle cx="6.2" cy="11.7" r="0.42" fill="#efd93a" fill-opacity="0.9"/><circle cx="12.0" cy="23.7" r="0.75" fill="#efd93a" fill-opacity="0.9"/><circle cx="15.0" cy="19.0" r="0.63" fill="#efd93a" fill-opacity="0.9"/><circle cx="4.3" cy="18.1" r="0.60" fill="#efd93a" fill-opacity="0.9"/><circle cx="22.2" cy="27.2" r="0.62" fill="#efd93a" fill-opacity="0.9"/><circle cx="17.2" cy="22.5" r="0.61" fill="#efd93a" fill-opacity="0.9"/><circle cx="6.9" cy="21.7" r="0.84" fill="#efd93a" fill-opacity="0.9"/><circle cx="23.2" cy="21.0" r="0.83" fill="#efd93a" fill-opacity="0.9"/><circle cx="20.4" cy="19.2" r="0.63" fill="#efd93a" fill-opacity="0.9"/><circle cx="9.4" cy="18.8" r="0.45" fill="#efd93a" fill-opacity="0.9"/><circle cx="12.6" cy="23.5" r="0.76" fill="#efd93a" fill-opacity="0.9"/><circle cx="18.9" cy="7.5" r="0.61" fill="#efd93a" fill-opacity="0.9"/><circle cx="13.7" cy="18.6" r="0.60" fill="#efd93a" fill-opacity="0.9"/><circle cx="20.3" cy="27.9" r="0.49" fill="#efd93a" fill-opacity="0.9"/><circle cx="19.6" cy="23.3" r="0.59" fill="#efd93a" fill-opacity="0.9"/><circle cx="14.7" cy="29.2" r="0.42" fill="#efd93a" fill-opacity="0.9"/><circle cx="16.3" cy="4.8" r="0.79" fill="#efd93a" fill-opacity="0.9"/><circle cx="28.2" cy="15.6" r="0.45" fill="#efd93a" fill-opacity="0.9"/><circle cx="17.2" cy="16.2" r="0.76" fill="#efd93a" fill-opacity="0.9"/><circle cx="15.4" cy="19.2" r="0.81" fill="#efd93a" fill-opacity="0.9"/><circle cx="15.7" cy="12.3" r="0.87" fill="#efd93a" fill-opacity="0.9"/><circle cx="6.3" cy="20.5" r="0.60" fill="#efd93a" fill-opacity="0.9"/><circle cx="22.9" cy="3.7" r="0.89" fill="#efd93a" fill-opacity="0.9"/><circle cx="10.7" cy="1.7" r="0.54" fill="#efd93a" fill-opacity="0.9"/><circle cx="12.0" cy="0.4" r="0.61" fill="#efd93a" fill-opacity="0.9"/><circle cx="12.6" cy="20.9" r="0.58" fill="#efd93a" fill-opacity="0.9"/><circle cx="8.0" cy="6.7" r="0.77" fill="#efd93a" fill-opacity="0.9"/><circle cx="28.2" cy="15.8" r="0.51" fill="#efd93a" fill-opacity="0.9"/><circle cx="24.0" cy="11.8" r="0.51" fill="#efd93a" fill-opacity="0.9"/><circle cx="3.9" cy="23.3" r="0.80" fill="#efd93a" fill-opacity="0.9"/><circle cx="19.0" cy="14.1" r="0.68" fill="#efd93a" fill-opacity="0.9"/><circle cx="6.8" cy="28.9" r="0.58" fill="#efd93a" fill-opacity="0.9"/><circle cx="19.2" cy="24.6" r="0.81" fill="#efd93a" fill-opacity="0.9"/><circle cx="14.0" cy="8.8" r="0.67" fill="#efd93a" fill-opacity="0.9"/><circle cx="3.8" cy="25.0" r="0.58" fill="#efd93a" fill-opacity="0.9"/><circle cx="25.5" cy="8.0" r="0.59" fill="#efd93a" fill-opacity="0.9"/><circle cx="7.6" cy="12.8" r="0.49" fill="#efd93a" fill-opacity="0.9"/><circle cx="0.1" cy="21.7" r="0.54" fill="#efd93a" fill-opacity="0.9"/><circle cx="7.3" cy="9.1" r="0.64" fill="#efd93a" fill-opacity="0.9"/><circle cx="12.9" cy="19.1" r="0.73" fill="#efd93a" fill-opacity="0.9"/><circle cx="10.9" cy="27.9" r="0.83" fill="#efd93a" fill-opacity="0.9"/><circle cx="1.7" cy="24.8" r="0.85" fill="#efd93a" fill-opacity="0.9"/><circle cx="23.5" cy="4.2" r="0.82" fill="#efd93a" fill-opacity="0.9"/><circle cx="19.0" cy="0.4" r="0.41" fill="#efd93a" fill-opacity="0.9"/></pattern>
<pattern id="ysp2" width="30" height="30" patternUnits="userSpaceOnUse"><circle cx="28.6" cy="19.7" r="0.50" fill="#f0dc48" fill-opacity="0.9"/><circle cx="3.0" cy="4.3" r="0.49" fill="#f0dc48" fill-opacity="0.9"/><circle cx="23.3" cy="10.4" r="0.46" fill="#f0dc48" fill-opacity="0.9"/><circle cx="27.1" cy="23.8" r="0.47" fill="#f0dc48" fill-opacity="0.9"/><circle cx="26.7" cy="18.3" r="0.71" fill="#f0dc48" fill-opacity="0.9"/><circle cx="20.1" cy="26.8" r="0.72" fill="#f0dc48" fill-opacity="0.9"/><circle cx="25.2" cy="5.9" r="0.68" fill="#f0dc48" fill-opacity="0.9"/><circle cx="15.9" cy="22.3" r="0.58" fill="#f0dc48" fill-opacity="0.9"/><circle cx="26.5" cy="16.7" r="0.51" fill="#f0dc48" fill-opacity="0.9"/><circle cx="7.0" cy="4.2" r="0.60" fill="#f0dc48" fill-opacity="0.9"/><circle cx="1.8" cy="14.0" r="0.46" fill="#f0dc48" fill-opacity="0.9"/><circle cx="14.7" cy="14.9" r="0.62" fill="#f0dc48" fill-opacity="0.9"/><circle cx="25.9" cy="0.2" r="0.74" fill="#f0dc48" fill-opacity="0.9"/><circle cx="14.0" cy="16.9" r="0.67" fill="#f0dc48" fill-opacity="0.9"/><circle cx="25.2" cy="11.2" r="0.57" fill="#f0dc48" fill-opacity="0.9"/><circle cx="28.8" cy="2.3" r="0.65" fill="#f0dc48" fill-opacity="0.9"/><circle cx="19.1" cy="0.9" r="0.64" fill="#f0dc48" fill-opacity="0.9"/><circle cx="20.5" cy="27.9" r="0.53" fill="#f0dc48" fill-opacity="0.9"/><circle cx="29.5" cy="15.3" r="0.59" fill="#f0dc48" fill-opacity="0.9"/><circle cx="26.9" cy="1.0" r="0.69" fill="#f0dc48" fill-opacity="0.9"/><circle cx="18.8" cy="10.2" r="0.74" fill="#f0dc48" fill-opacity="0.9"/><circle cx="11.0" cy="14.2" r="0.61" fill="#f0dc48" fill-opacity="0.9"/><circle cx="23.1" cy="6.3" r="0.57" fill="#f0dc48" fill-opacity="0.9"/><circle cx="12.7" cy="16.6" r="0.73" fill="#f0dc48" fill-opacity="0.9"/><circle cx="8.8" cy="24.8" r="0.56" fill="#f0dc48" fill-opacity="0.9"/><circle cx="15.1" cy="8.2" r="0.60" fill="#f0dc48" fill-opacity="0.9"/><circle cx="29.2" cy="19.6" r="0.72" fill="#f0dc48" fill-opacity="0.9"/><circle cx="9.9" cy="9.5" r="0.52" fill="#f0dc48" fill-opacity="0.9"/><circle cx="17.6" cy="19.0" r="0.71" fill="#f0dc48" fill-opacity="0.9"/><circle cx="1.2" cy="21.7" r="0.75" fill="#f0dc48" fill-opacity="0.9"/></pattern>
<linearGradient id="redg" x1="0" y1="1" x2="1" y2="0">
<stop offset="0" stop-color="#f4b8b8"/><stop offset="0.25" stop-color="#ee9396"/><stop offset="0.6" stop-color="#ea7f84"/><stop offset="1" stop-color="#e9797d"/>
</linearGradient>
</defs>

<g clip-path="url(#ca)">
<path d="M86,28.5 L93,37 L101,47 L108,55 L115,63 L122,74 L131,86.5 L136,98 L139,110 L141,122 L143,135 L145,150 L146,165 L147,178 L150,190 L154,200 L158,212 L156,217 L151,217.5 L147,211 L141,201 L131,190 L122,179 L114,169 L105,156 L99,147 L93,136 L88,123 L85,108 L84,90 L83.5,60 L84,38 Z" fill="#f1dd3e" filter="url(#rough)"/>
<path d="M86,28.5 L93,37 L101,47 L108,55 L115,63 L122,74 L131,86.5 L136,98 L139,110 L141,122 L143,135 L145,150 L146,165 L147,178 L150,190 L154,200 L158,212 L156,217 L151,217.5 L147,211 L141,201 L131,190 L122,179 L114,169 L105,156 L99,147 L93,136 L88,123 L85,108 L84,90 L83.5,60 L84,38 Z" fill="url(#wsp)"/>
<g fill="#f0dc40" fill-opacity="1.0"><circle cx="156.5" cy="205.1" r="0.64"/><circle cx="160.7" cy="203.7" r="0.59"/><circle cx="156.8" cy="206.2" r="0.58"/><circle cx="157.5" cy="192.2" r="0.60"/><circle cx="154.4" cy="208.1" r="0.43"/><circle cx="150.5" cy="187.1" r="0.63"/><circle cx="160.8" cy="205.0" r="0.51"/><circle cx="159.5" cy="208.8" r="0.57"/><circle cx="151.6" cy="194.8" r="0.53"/><circle cx="152.5" cy="198.5" r="0.59"/><circle cx="156.1" cy="212.6" r="0.53"/><circle cx="156.3" cy="213.2" r="0.69"/><circle cx="154.7" cy="198.0" r="0.43"/><circle cx="157.0" cy="192.2" r="0.45"/><circle cx="148.2" cy="186.1" r="0.61"/><circle cx="149.8" cy="186.5" r="0.62"/><circle cx="150.6" cy="187.5" r="0.63"/><circle cx="158.0" cy="210.8" r="0.62"/><circle cx="157.9" cy="199.4" r="0.68"/><circle cx="154.8" cy="187.7" r="0.51"/><circle cx="156.0" cy="198.7" r="0.60"/><circle cx="153.1" cy="204.7" r="0.59"/></g>
<path d="M85.7,54 L88,51 L93,50.5 L101,56.3 L109,62 L113,66 L116,73 L119,80 L123,88 L128,97 L131.5,105 L136,114 L139,122 L143,135 L146.5,148 L147.5,158 L145,170 L142,180 L139,187 L134,186 L128,179 L124,168 L122.5,155 L123,140 L120,120 L115,105.3 L108,89 L99,73 L91,61 Z" fill="#4a5ca8" filter="url(#rough)"/>
<g fill="#efd93a" fill-opacity="1.0"><circle cx="131.5" cy="111.4" r="0.86"/><circle cx="139.2" cy="130.2" r="0.77"/><circle cx="137.1" cy="127.0" r="0.59"/><circle cx="103.8" cy="60.7" r="0.72"/><circle cx="143.6" cy="139.7" r="0.53"/><circle cx="144.4" cy="147.2" r="0.59"/><circle cx="141.6" cy="133.0" r="0.52"/><circle cx="136.2" cy="121.3" r="0.76"/><circle cx="114.9" cy="79.6" r="0.55"/><circle cx="111.0" cy="69.2" r="0.77"/><circle cx="143.0" cy="135.7" r="0.86"/><circle cx="120.8" cy="87.3" r="0.83"/><circle cx="145.6" cy="147.8" r="0.87"/><circle cx="128.0" cy="101.6" r="0.61"/><circle cx="112.2" cy="73.1" r="0.83"/><circle cx="108.4" cy="65.4" r="0.60"/><circle cx="124.2" cy="92.4" r="0.88"/><circle cx="144.1" cy="142.0" r="0.60"/><circle cx="140.7" cy="137.4" r="0.51"/><circle cx="123.9" cy="95.9" r="0.88"/><circle cx="118.7" cy="82.5" r="0.60"/><circle cx="128.2" cy="99.1" r="0.62"/><circle cx="123.6" cy="91.3" r="0.73"/><circle cx="125.6" cy="101.2" r="0.61"/><circle cx="131.1" cy="112.7" r="0.84"/><circle cx="136.1" cy="121.2" r="0.87"/><circle cx="126.9" cy="101.8" r="0.89"/><circle cx="126.3" cy="94.4" r="0.81"/><circle cx="114.0" cy="69.3" r="0.73"/><circle cx="138.8" cy="133.1" r="0.88"/><circle cx="140.5" cy="144.7" r="0.69"/><circle cx="120.7" cy="91.5" r="0.52"/><circle cx="141.3" cy="131.1" r="0.62"/><circle cx="111.2" cy="72.0" r="0.64"/><circle cx="111.3" cy="73.6" r="0.61"/><circle cx="116.9" cy="78.7" r="0.74"/><circle cx="130.2" cy="108.2" r="0.62"/><circle cx="114.3" cy="76.8" r="0.55"/><circle cx="108.4" cy="66.6" r="0.87"/><circle cx="101.9" cy="59.7" r="0.56"/><circle cx="111.2" cy="66.2" r="0.82"/><circle cx="132.5" cy="117.7" r="0.60"/><circle cx="116.2" cy="83.5" r="0.85"/><circle cx="127.5" cy="98.4" r="0.81"/><circle cx="112.9" cy="74.1" r="0.78"/><circle cx="111.3" cy="68.8" r="0.51"/><circle cx="113.6" cy="73.1" r="0.76"/><circle cx="138.2" cy="124.3" r="0.63"/><circle cx="139.3" cy="128.4" r="0.67"/><circle cx="123.7" cy="94.8" r="0.64"/><circle cx="116.0" cy="74.0" r="0.53"/><circle cx="131.1" cy="112.0" r="0.62"/><circle cx="135.1" cy="118.6" r="0.83"/><circle cx="140.1" cy="127.2" r="0.75"/><circle cx="140.1" cy="142.4" r="0.77"/><circle cx="125.3" cy="93.3" r="0.52"/><circle cx="116.9" cy="78.4" r="0.59"/><circle cx="107.8" cy="62.1" r="0.62"/><circle cx="134.5" cy="115.7" r="0.66"/><circle cx="134.9" cy="115.1" r="0.62"/><circle cx="139.7" cy="136.0" r="0.61"/><circle cx="127.5" cy="97.7" r="0.73"/><circle cx="140.6" cy="146.1" r="0.51"/><circle cx="112.6" cy="72.3" r="0.61"/><circle cx="103.2" cy="60.0" r="0.70"/><circle cx="118.4" cy="85.3" r="0.67"/><circle cx="111.0" cy="71.9" r="0.83"/><circle cx="114.9" cy="78.2" r="0.83"/><circle cx="127.3" cy="98.6" r="0.68"/><circle cx="131.3" cy="107.0" r="0.81"/><circle cx="125.6" cy="103.0" r="0.67"/><circle cx="139.9" cy="129.8" r="0.84"/><circle cx="111.8" cy="74.6" r="0.52"/><circle cx="124.5" cy="93.6" r="0.73"/><circle cx="114.9" cy="81.2" r="0.82"/><circle cx="113.6" cy="75.4" r="0.84"/><circle cx="109.5" cy="65.3" r="0.54"/><circle cx="113.5" cy="77.4" r="0.73"/><circle cx="141.1" cy="133.8" r="0.59"/><circle cx="127.4" cy="98.4" r="0.51"/><circle cx="138.7" cy="136.4" r="0.69"/><circle cx="106.9" cy="64.6" r="0.85"/><circle cx="136.1" cy="121.4" r="0.52"/><circle cx="134.6" cy="114.5" r="0.58"/><circle cx="143.1" cy="139.2" r="0.80"/><circle cx="138.3" cy="129.8" r="0.74"/><circle cx="121.0" cy="86.9" r="0.59"/><circle cx="131.4" cy="107.3" r="0.68"/><circle cx="134.4" cy="115.0" r="0.61"/><circle cx="125.0" cy="94.7" r="0.89"/><circle cx="138.0" cy="129.0" r="0.64"/><circle cx="144.5" cy="144.5" r="0.57"/><circle cx="112.3" cy="74.8" r="0.86"/><circle cx="114.5" cy="70.0" r="0.80"/><circle cx="138.9" cy="128.5" r="0.84"/><circle cx="141.3" cy="138.7" r="0.80"/><circle cx="138.6" cy="130.4" r="0.71"/><circle cx="115.7" cy="73.5" r="0.66"/><circle cx="113.0" cy="73.9" r="0.79"/><circle cx="123.7" cy="96.4" r="0.58"/><circle cx="141.4" cy="130.0" r="0.68"/><circle cx="125.9" cy="102.7" r="0.58"/><circle cx="143.5" cy="146.2" r="0.67"/><circle cx="138.2" cy="128.3" r="0.69"/><circle cx="112.1" cy="70.1" r="0.51"/><circle cx="140.9" cy="140.3" r="0.50"/><circle cx="139.1" cy="134.0" r="0.54"/><circle cx="116.9" cy="83.9" r="0.80"/><circle cx="127.5" cy="103.9" r="0.68"/><circle cx="142.0" cy="133.0" r="0.79"/><circle cx="140.9" cy="129.1" r="0.71"/><circle cx="108.2" cy="65.2" r="0.62"/><circle cx="136.9" cy="117.7" r="0.61"/><circle cx="130.3" cy="110.0" r="0.76"/><circle cx="109.8" cy="63.6" r="0.61"/><circle cx="120.8" cy="85.2" r="0.58"/><circle cx="118.7" cy="87.6" r="0.77"/><circle cx="110.8" cy="71.4" r="0.73"/><circle cx="141.3" cy="144.5" r="0.58"/><circle cx="128.7" cy="99.4" r="0.77"/></g>
<g fill="#efd93a" fill-opacity="1.0"><circle cx="141.4" cy="148.4" r="0.71"/><circle cx="138.6" cy="175.7" r="0.79"/><circle cx="141.1" cy="157.1" r="0.69"/><circle cx="145.0" cy="156.1" r="0.68"/><circle cx="128.3" cy="176.7" r="0.66"/><circle cx="138.3" cy="177.9" r="0.56"/><circle cx="128.1" cy="156.4" r="0.62"/><circle cx="123.8" cy="153.3" r="0.68"/><circle cx="132.7" cy="151.0" r="0.76"/><circle cx="144.7" cy="170.5" r="0.66"/><circle cx="139.2" cy="165.1" r="0.58"/><circle cx="134.1" cy="148.7" r="0.80"/><circle cx="126.7" cy="162.4" r="0.93"/><circle cx="140.6" cy="180.6" r="0.79"/><circle cx="137.6" cy="175.5" r="0.93"/><circle cx="127.5" cy="177.9" r="0.64"/><circle cx="128.9" cy="180.0" r="0.77"/><circle cx="136.5" cy="155.7" r="0.51"/><circle cx="135.3" cy="176.3" r="0.62"/><circle cx="124.6" cy="148.2" r="0.58"/><circle cx="139.0" cy="148.2" r="0.60"/><circle cx="129.1" cy="175.7" r="0.94"/><circle cx="123.4" cy="152.5" r="0.92"/><circle cx="145.3" cy="153.8" r="0.65"/><circle cx="135.0" cy="160.5" r="0.69"/><circle cx="134.0" cy="158.1" r="0.52"/><circle cx="124.9" cy="154.3" r="0.54"/><circle cx="137.4" cy="175.2" r="0.62"/><circle cx="141.2" cy="176.4" r="0.65"/><circle cx="134.3" cy="155.3" r="0.92"/><circle cx="135.9" cy="150.0" r="0.57"/><circle cx="138.9" cy="163.0" r="0.82"/><circle cx="128.3" cy="179.1" r="0.86"/><circle cx="125.2" cy="170.9" r="0.59"/><circle cx="139.3" cy="179.4" r="0.86"/><circle cx="128.3" cy="151.6" r="0.80"/><circle cx="136.0" cy="153.4" r="0.59"/><circle cx="136.4" cy="152.2" r="0.79"/><circle cx="128.5" cy="158.1" r="0.69"/><circle cx="135.3" cy="176.3" r="0.51"/><circle cx="139.7" cy="156.6" r="0.63"/><circle cx="137.7" cy="175.0" r="0.78"/><circle cx="143.7" cy="156.0" r="0.64"/><circle cx="138.2" cy="158.2" r="0.57"/><circle cx="128.2" cy="178.1" r="0.87"/><circle cx="139.5" cy="185.4" r="0.86"/><circle cx="130.1" cy="160.3" r="0.82"/><circle cx="125.1" cy="149.9" r="0.73"/><circle cx="143.2" cy="166.0" r="0.59"/><circle cx="125.8" cy="167.8" r="0.73"/><circle cx="131.3" cy="175.9" r="0.74"/><circle cx="140.8" cy="152.1" r="0.53"/><circle cx="131.9" cy="166.9" r="0.61"/><circle cx="138.4" cy="156.7" r="0.64"/><circle cx="134.0" cy="175.8" r="0.85"/><circle cx="131.5" cy="165.4" r="0.92"/><circle cx="144.5" cy="172.1" r="0.55"/><circle cx="133.5" cy="172.8" r="0.63"/><circle cx="143.9" cy="153.0" r="0.71"/><circle cx="137.2" cy="159.7" r="0.53"/><circle cx="140.3" cy="178.1" r="0.70"/><circle cx="125.0" cy="163.4" r="0.54"/><circle cx="145.2" cy="150.0" r="0.63"/><circle cx="140.7" cy="153.3" r="0.55"/><circle cx="124.6" cy="154.4" r="0.74"/><circle cx="142.2" cy="154.6" r="0.58"/><circle cx="140.6" cy="164.6" r="0.65"/><circle cx="125.8" cy="157.5" r="0.94"/><circle cx="125.7" cy="158.1" r="0.83"/><circle cx="133.9" cy="185.3" r="0.77"/><circle cx="129.6" cy="166.1" r="0.82"/><circle cx="139.9" cy="153.1" r="0.59"/><circle cx="145.0" cy="152.2" r="0.87"/><circle cx="130.8" cy="157.7" r="0.61"/><circle cx="130.4" cy="154.7" r="0.84"/><circle cx="130.9" cy="155.3" r="0.69"/><circle cx="141.9" cy="181.7" r="0.76"/><circle cx="137.0" cy="183.1" r="0.93"/><circle cx="130.5" cy="181.1" r="0.87"/><circle cx="129.1" cy="162.3" r="0.67"/><circle cx="131.1" cy="162.8" r="0.55"/><circle cx="132.4" cy="172.8" r="0.90"/><circle cx="140.4" cy="157.5" r="0.91"/><circle cx="139.7" cy="177.4" r="0.87"/><circle cx="128.8" cy="173.6" r="0.67"/><circle cx="142.3" cy="153.2" r="0.74"/><circle cx="130.7" cy="180.0" r="0.66"/><circle cx="142.4" cy="181.1" r="0.90"/><circle cx="140.1" cy="174.4" r="0.79"/><circle cx="135.6" cy="165.8" r="0.65"/></g>
<g fill="#efd93a" fill-opacity="1.0"><circle cx="140.8" cy="181.5" r="0.99"/><circle cx="127.1" cy="168.2" r="0.71"/><circle cx="124.4" cy="167.8" r="0.61"/><circle cx="141.1" cy="164.8" r="0.63"/><circle cx="126.8" cy="171.9" r="0.78"/><circle cx="141.3" cy="186.6" r="0.74"/><circle cx="137.2" cy="184.8" r="0.81"/><circle cx="135.8" cy="161.2" r="0.86"/><circle cx="141.9" cy="173.6" r="0.82"/><circle cx="132.0" cy="184.4" r="0.90"/><circle cx="127.0" cy="168.9" r="0.76"/><circle cx="132.4" cy="179.5" r="0.79"/><circle cx="124.2" cy="173.7" r="0.97"/><circle cx="140.9" cy="168.7" r="0.70"/><circle cx="139.9" cy="182.1" r="0.70"/><circle cx="132.4" cy="169.4" r="0.92"/><circle cx="144.3" cy="164.1" r="0.74"/><circle cx="129.9" cy="180.0" r="0.68"/><circle cx="135.1" cy="173.0" r="0.90"/><circle cx="141.1" cy="163.5" r="1.01"/><circle cx="135.2" cy="180.8" r="0.99"/><circle cx="134.1" cy="185.0" r="1.01"/><circle cx="144.9" cy="173.3" r="1.02"/><circle cx="135.4" cy="162.3" r="0.88"/><circle cx="141.3" cy="170.7" r="0.87"/><circle cx="128.2" cy="166.3" r="0.79"/><circle cx="134.3" cy="172.0" r="0.64"/><circle cx="122.1" cy="168.2" r="0.92"/><circle cx="140.0" cy="165.1" r="0.72"/><circle cx="134.4" cy="163.3" r="0.87"/><circle cx="143.7" cy="164.1" r="0.86"/><circle cx="139.3" cy="180.5" r="0.92"/><circle cx="139.1" cy="166.2" r="0.98"/><circle cx="144.2" cy="159.6" r="1.02"/><circle cx="132.6" cy="160.6" r="0.63"/><circle cx="141.1" cy="178.3" r="0.66"/><circle cx="133.0" cy="177.2" r="1.05"/><circle cx="130.1" cy="181.0" r="0.71"/><circle cx="126.8" cy="162.8" r="0.78"/><circle cx="136.8" cy="167.1" r="0.67"/><circle cx="127.2" cy="160.5" r="0.69"/><circle cx="129.6" cy="173.1" r="0.68"/><circle cx="133.5" cy="171.2" r="1.04"/><circle cx="133.7" cy="186.3" r="0.81"/><circle cx="126.8" cy="175.8" r="0.67"/><circle cx="126.1" cy="160.2" r="0.92"/><circle cx="145.2" cy="170.1" r="0.76"/><circle cx="132.2" cy="168.6" r="0.91"/><circle cx="131.4" cy="162.6" r="0.99"/><circle cx="142.4" cy="179.9" r="0.76"/><circle cx="137.1" cy="185.6" r="0.78"/><circle cx="132.4" cy="166.9" r="0.85"/><circle cx="137.9" cy="180.1" r="1.03"/><circle cx="125.5" cy="169.0" r="0.98"/><circle cx="141.0" cy="175.7" r="0.90"/><circle cx="135.2" cy="170.1" r="0.68"/><circle cx="141.2" cy="158.8" r="0.75"/><circle cx="133.5" cy="172.9" r="0.76"/><circle cx="143.5" cy="168.5" r="0.84"/><circle cx="133.4" cy="168.0" r="0.77"/><circle cx="136.6" cy="181.6" r="0.72"/><circle cx="130.9" cy="169.6" r="0.76"/><circle cx="143.9" cy="174.2" r="0.72"/><circle cx="130.0" cy="182.6" r="0.67"/><circle cx="138.6" cy="158.7" r="0.69"/><circle cx="125.5" cy="164.8" r="0.63"/><circle cx="128.3" cy="180.0" r="0.92"/><circle cx="135.2" cy="185.7" r="0.64"/><circle cx="144.2" cy="171.0" r="0.69"/><circle cx="140.0" cy="183.8" r="0.77"/><circle cx="140.1" cy="175.9" r="1.04"/><circle cx="139.0" cy="176.9" r="0.65"/><circle cx="125.9" cy="163.4" r="0.87"/><circle cx="138.1" cy="187.1" r="0.76"/><circle cx="145.5" cy="171.0" r="0.78"/><circle cx="128.1" cy="165.0" r="1.04"/><circle cx="126.2" cy="163.4" r="0.67"/><circle cx="130.4" cy="180.1" r="0.63"/><circle cx="134.7" cy="178.4" r="0.62"/><circle cx="132.5" cy="181.7" r="0.86"/><circle cx="132.8" cy="184.4" r="0.87"/><circle cx="130.1" cy="169.9" r="1.02"/><circle cx="135.5" cy="162.3" r="0.68"/><circle cx="131.2" cy="178.7" r="0.60"/><circle cx="141.2" cy="181.6" r="0.83"/><circle cx="131.9" cy="178.1" r="0.86"/><circle cx="139.5" cy="170.3" r="1.03"/><circle cx="136.8" cy="167.5" r="0.77"/><circle cx="141.0" cy="181.6" r="0.97"/><circle cx="129.6" cy="180.7" r="0.72"/><circle cx="136.7" cy="162.8" r="0.99"/><circle cx="133.7" cy="166.3" r="1.02"/><circle cx="140.2" cy="162.5" r="0.94"/><circle cx="135.8" cy="185.2" r="0.86"/><circle cx="132.3" cy="186.0" r="0.64"/><circle cx="140.6" cy="161.1" r="0.72"/><circle cx="132.6" cy="179.8" r="0.72"/><circle cx="139.5" cy="177.5" r="0.64"/><circle cx="133.9" cy="179.7" r="0.70"/><circle cx="137.7" cy="166.3" r="0.77"/><circle cx="135.7" cy="182.3" r="0.94"/><circle cx="132.9" cy="183.9" r="0.78"/><circle cx="144.8" cy="172.2" r="0.65"/><circle cx="140.0" cy="162.3" r="0.91"/><circle cx="135.0" cy="180.2" r="0.66"/><circle cx="137.3" cy="169.3" r="0.71"/><circle cx="141.6" cy="159.0" r="0.82"/><circle cx="143.4" cy="159.0" r="0.81"/><circle cx="133.3" cy="179.6" r="0.93"/><circle cx="126.4" cy="162.1" r="0.97"/><circle cx="124.9" cy="163.6" r="0.83"/><circle cx="130.1" cy="162.9" r="1.02"/><circle cx="133.4" cy="181.6" r="0.71"/><circle cx="143.9" cy="164.6" r="1.01"/><circle cx="136.7" cy="187.1" r="0.95"/><circle cx="137.1" cy="174.0" r="0.98"/><circle cx="132.6" cy="161.0" r="1.01"/><circle cx="141.3" cy="178.5" r="0.94"/><circle cx="127.6" cy="171.9" r="0.97"/><circle cx="125.9" cy="178.5" r="0.85"/><circle cx="131.7" cy="163.0" r="0.66"/><circle cx="133.3" cy="172.8" r="0.72"/><circle cx="130.8" cy="174.6" r="0.94"/><circle cx="136.1" cy="162.9" r="1.00"/><circle cx="145.6" cy="162.2" r="0.86"/><circle cx="145.2" cy="169.6" r="0.85"/><circle cx="126.9" cy="161.7" r="0.73"/><circle cx="137.1" cy="174.9" r="1.03"/><circle cx="138.5" cy="168.9" r="1.03"/><circle cx="137.2" cy="174.3" r="0.99"/><circle cx="138.1" cy="168.8" r="0.87"/><circle cx="135.3" cy="164.2" r="0.83"/><circle cx="138.1" cy="178.5" r="1.02"/><circle cx="123.2" cy="170.8" r="1.04"/><circle cx="129.5" cy="175.1" r="0.60"/><circle cx="132.0" cy="185.1" r="0.87"/><circle cx="141.8" cy="158.4" r="0.69"/><circle cx="134.4" cy="167.7" r="1.03"/><circle cx="131.7" cy="178.9" r="0.63"/><circle cx="128.5" cy="162.4" r="0.76"/><circle cx="137.9" cy="186.6" r="1.05"/><circle cx="137.7" cy="162.8" r="0.93"/><circle cx="135.2" cy="168.8" r="1.01"/><circle cx="128.1" cy="162.2" r="0.67"/><circle cx="125.6" cy="175.7" r="0.96"/><circle cx="125.8" cy="173.1" r="0.86"/><circle cx="135.5" cy="170.4" r="0.84"/><circle cx="132.1" cy="165.1" r="0.94"/><circle cx="127.8" cy="160.8" r="0.81"/><circle cx="131.3" cy="168.1" r="0.94"/></g>
<g fill="#7f8fd2" fill-opacity="0.75"><circle cx="121.7" cy="168.0" r="0.48"/><circle cx="117.0" cy="170.8" r="0.65"/><circle cx="110.0" cy="170.7" r="0.58"/><circle cx="117.1" cy="167.7" r="0.47"/><circle cx="122.8" cy="167.4" r="0.70"/><circle cx="114.7" cy="166.3" r="0.75"/><circle cx="124.6" cy="175.2" r="0.52"/><circle cx="123.4" cy="173.5" r="0.71"/><circle cx="116.4" cy="168.4" r="0.49"/><circle cx="114.7" cy="169.9" r="0.72"/><circle cx="111.8" cy="172.8" r="0.73"/><circle cx="117.2" cy="167.4" r="0.48"/><circle cx="119.1" cy="174.7" r="0.53"/><circle cx="123.4" cy="174.9" r="0.77"/><circle cx="124.1" cy="176.7" r="0.84"/><circle cx="114.4" cy="165.2" r="0.68"/><circle cx="124.8" cy="171.7" r="0.73"/><circle cx="128.5" cy="178.0" r="0.51"/><circle cx="128.7" cy="179.8" r="0.50"/><circle cx="115.9" cy="178.8" r="0.45"/><circle cx="126.4" cy="183.0" r="0.69"/><circle cx="118.6" cy="171.4" r="0.60"/><circle cx="119.3" cy="176.9" r="0.54"/><circle cx="113.2" cy="175.1" r="0.65"/><circle cx="116.9" cy="178.6" r="0.52"/><circle cx="119.8" cy="170.1" r="0.76"/><circle cx="124.3" cy="181.2" r="0.66"/><circle cx="119.3" cy="172.3" r="0.57"/><circle cx="116.5" cy="179.6" r="0.78"/><circle cx="118.5" cy="180.1" r="0.54"/><circle cx="117.8" cy="171.9" r="0.57"/><circle cx="123.0" cy="178.9" r="0.70"/><circle cx="124.0" cy="170.0" r="0.47"/><circle cx="114.8" cy="166.4" r="0.77"/><circle cx="125.2" cy="174.7" r="0.60"/><circle cx="113.0" cy="174.7" r="0.73"/><circle cx="129.3" cy="182.7" r="0.80"/><circle cx="117.4" cy="173.3" r="0.58"/><circle cx="110.1" cy="170.2" r="0.82"/><circle cx="128.1" cy="183.6" r="0.62"/><circle cx="115.7" cy="166.6" r="0.81"/><circle cx="117.4" cy="172.7" r="0.69"/><circle cx="116.1" cy="172.3" r="0.45"/><circle cx="122.2" cy="168.1" r="0.46"/><circle cx="123.5" cy="177.4" r="0.57"/><circle cx="121.2" cy="176.6" r="0.58"/><circle cx="122.8" cy="177.2" r="0.65"/><circle cx="109.2" cy="168.7" r="0.57"/><circle cx="116.8" cy="172.0" r="0.81"/><circle cx="115.8" cy="164.8" r="0.77"/><circle cx="126.2" cy="174.5" r="0.84"/><circle cx="126.2" cy="182.5" r="0.67"/><circle cx="108.7" cy="169.7" r="0.75"/><circle cx="108.4" cy="166.0" r="0.60"/><circle cx="117.2" cy="175.2" r="0.57"/><circle cx="124.3" cy="175.4" r="0.84"/><circle cx="118.8" cy="172.2" r="0.79"/><circle cx="115.3" cy="171.4" r="0.70"/><circle cx="120.6" cy="170.2" r="0.48"/><circle cx="119.8" cy="171.2" r="0.58"/><circle cx="115.4" cy="172.8" r="0.51"/><circle cx="123.2" cy="178.6" r="0.63"/><circle cx="116.6" cy="169.1" r="0.77"/><circle cx="123.6" cy="174.9" r="0.64"/><circle cx="111.1" cy="167.8" r="0.71"/><circle cx="124.0" cy="169.7" r="0.71"/><circle cx="114.2" cy="176.1" r="0.50"/><circle cx="118.6" cy="177.6" r="0.50"/><circle cx="120.2" cy="177.6" r="0.76"/><circle cx="120.9" cy="168.9" r="0.63"/></g>
<path d="M120.4,203.1 L127,211.4 L149.2,184.2 L142.5,176.5 Z" fill="#45b452"/>
<path d="M176,120 L186,118.5 L188.5,126 L188,136 L183,142.5 L173,148.5 L164,158.5 L154,170 L149,171.5 L145,167 L146,159 L151.5,151 L164,138 L171.5,128 L174.5,122 Z" fill="#c997d3" filter="url(#soft2)"/>
<path d="M282,82.5 Q291,81 297.5,83 L299.5,89 L298,102 L293,115 L284,127 L269.4,141.3 L260,148.7 L251.9,154.5 L239,166.2 L225,174.4 L216,180 L211,183.7 L205,181 L200.5,175.5 L205,170.5 L213.4,165 L228.5,150 L237,142 L246,132.3 L256.3,119.4 L268,102 L274,93 L278.2,87.3 Q279,83.8 282,82.5 Z" fill="url(#redg)" filter="url(#soft2)"/>
</g>
<circle cx="82.28" cy="61.61" r="2.75" fill="#f7d91c" stroke="#262626" stroke-width="0.75"/>
<circle cx="82.28" cy="74.10" r="2.75" fill="#f7d91c" stroke="#262626" stroke-width="0.75"/>
<circle cx="69.64" cy="92.04" r="2.75" fill="#f7d91c" stroke="#262626" stroke-width="0.75"/>
<circle cx="96.51" cy="89.32" r="2.75" fill="#f7d91c" stroke="#262626" stroke-width="0.75"/>
<circle cx="115.42" cy="97.68" r="2.75" fill="#f7d91c" stroke="#262626" stroke-width="0.75"/>
<circle cx="114.22" cy="102.31" r="2.75" fill="#2a78bf" stroke="#262626" stroke-width="0.75"/>
<circle cx="84.86" cy="129.92" r="2.75" fill="#f7d91c" stroke="#262626" stroke-width="0.75"/>
<circle cx="113.23" cy="157.13" r="2.75" fill="#2a78bf" stroke="#262626" stroke-width="0.75"/>
<circle cx="131.74" cy="165.69" r="2.75" fill="#f7d91c" stroke="#262626" stroke-width="0.75"/>
<circle cx="125.27" cy="172.34" r="2.75" fill="#f7d91c" stroke="#262626" stroke-width="0.75"/>
<circle cx="145.08" cy="173.95" r="2.75" fill="#a653b6" stroke="#262626" stroke-width="0.75"/>
<circle cx="165.38" cy="168.61" r="2.75" fill="#2a78bf" stroke="#262626" stroke-width="0.75"/>
<circle cx="165.88" cy="175.06" r="2.75" fill="#a653b6" stroke="#262626" stroke-width="0.75"/>
<circle cx="169.76" cy="180.20" r="2.75" fill="#a653b6" stroke="#262626" stroke-width="0.75"/>
<circle cx="159.91" cy="182.11" r="2.75" fill="#f7d91c" stroke="#262626" stroke-width="0.75"/>
<circle cx="160.50" cy="188.97" r="2.75" fill="#1e9a4a" stroke="#262626" stroke-width="0.75"/>
<circle cx="136.02" cy="193.50" r="2.75" fill="#2a78bf" stroke="#262626" stroke-width="0.75"/>
<circle cx="139.01" cy="195.21" r="2.75" fill="#f7d91c" stroke="#262626" stroke-width="0.75"/>
<circle cx="135.32" cy="197.43" r="2.75" fill="#2a78bf" stroke="#262626" stroke-width="0.75"/>
<circle cx="144.98" cy="195.52" r="2.75" fill="#f7d91c" stroke="#262626" stroke-width="0.75"/>
<circle cx="147.37" cy="212.44" r="2.75" fill="#1e9a4a" stroke="#262626" stroke-width="0.75"/>
<circle cx="185.49" cy="166.60" r="2.75" fill="#c8102e" stroke="#262626" stroke-width="0.75"/>
<circle cx="141.49" cy="102.41" r="2.75" fill="#2a78bf" stroke="#262626" stroke-width="0.75"/>
<circle cx="181.41" cy="117.63" r="2.75" fill="#a653b6" stroke="#262626" stroke-width="0.75"/>
<circle cx="159.31" cy="124.48" r="2.75" fill="#2a78bf" stroke="#262626" stroke-width="0.75"/>
<circle cx="141.89" cy="128.61" r="2.75" fill="#2a78bf" stroke="#262626" stroke-width="0.75"/>
<circle cx="143.88" cy="127.10" r="2.75" fill="#f7d91c" stroke="#262626" stroke-width="0.75"/>
<circle cx="167.17" cy="130.12" r="2.75" fill="#a653b6" stroke="#262626" stroke-width="0.75"/>
<circle cx="207.28" cy="130.12" r="2.75" fill="#a653b6" stroke="#262626" stroke-width="0.75"/>
<circle cx="147.57" cy="140.70" r="2.75" fill="#a653b6" stroke="#262626" stroke-width="0.75"/>
<circle cx="150.45" cy="145.84" r="2.75" fill="#2a78bf" stroke="#262626" stroke-width="0.75"/>
<circle cx="171.55" cy="141.41" r="2.75" fill="#f7d91c" stroke="#262626" stroke-width="0.75"/>
<circle cx="185.29" cy="138.49" r="2.75" fill="#a653b6" stroke="#262626" stroke-width="0.75"/>
<circle cx="186.88" cy="142.42" r="2.75" fill="#f7d91c" stroke="#262626" stroke-width="0.75"/>
<circle cx="176.73" cy="145.54" r="2.75" fill="#f7d91c" stroke="#262626" stroke-width="0.75"/>
<circle cx="181.01" cy="145.34" r="2.75" fill="#a653b6" stroke="#262626" stroke-width="0.75"/>
<circle cx="184.59" cy="147.76" r="2.75" fill="#a653b6" stroke="#262626" stroke-width="0.75"/>
<circle cx="200.32" cy="144.83" r="2.75" fill="#f7d91c" stroke="#262626" stroke-width="0.75"/>
<circle cx="207.58" cy="145.94" r="2.75" fill="#a653b6" stroke="#262626" stroke-width="0.75"/>
<circle cx="160.60" cy="151.69" r="2.75" fill="#a653b6" stroke="#262626" stroke-width="0.75"/>
<circle cx="189.87" cy="155.11" r="2.75" fill="#f7d91c" stroke="#262626" stroke-width="0.75"/>
<circle cx="189.37" cy="159.54" r="2.75" fill="#a653b6" stroke="#262626" stroke-width="0.75"/>
<circle cx="180.41" cy="159.54" r="2.75" fill="#a653b6" stroke="#262626" stroke-width="0.75"/>
<circle cx="194.44" cy="159.04" r="2.75" fill="#f7d91c" stroke="#262626" stroke-width="0.75"/>
<circle cx="200.32" cy="157.63" r="2.75" fill="#c8102e" stroke="#262626" stroke-width="0.75"/>
<circle cx="195.94" cy="173.35" r="2.75" fill="#c8102e" stroke="#262626" stroke-width="0.75"/>
<circle cx="235.75" cy="103.12" r="2.75" fill="#f7d91c" stroke="#262626" stroke-width="0.75"/>
<circle cx="242.32" cy="104.63" r="2.75" fill="#c8102e" stroke="#262626" stroke-width="0.75"/>
<circle cx="235.05" cy="107.55" r="2.75" fill="#f7d91c" stroke="#262626" stroke-width="0.75"/>
<circle cx="236.74" cy="128.21" r="2.75" fill="#c8102e" stroke="#262626" stroke-width="0.75"/>
<circle cx="253.96" cy="130.73" r="2.75" fill="#c8102e" stroke="#262626" stroke-width="0.75"/>
<circle cx="231.37" cy="133.65" r="2.75" fill="#c8102e" stroke="#262626" stroke-width="0.75"/>
<circle cx="237.94" cy="137.78" r="2.75" fill="#c8102e" stroke="#262626" stroke-width="0.75"/>
<circle cx="221.12" cy="143.22" r="2.75" fill="#c8102e" stroke="#262626" stroke-width="0.75"/>
<circle cx="221.22" cy="154.91" r="2.75" fill="#c8102e" stroke="#262626" stroke-width="0.75"/>
<circle cx="214.65" cy="173.05" r="2.75" fill="#c8102e" stroke="#262626" stroke-width="0.75"/>
<circle cx="179.22" cy="65.03" r="2.75" fill="#a653b6" stroke="#262626" stroke-width="0.75"/>
<circle cx="200.32" cy="88.51" r="2.75" fill="#a653b6" stroke="#262626" stroke-width="0.75"/>
<circle cx="181.01" cy="93.25" r="2.75" fill="#a653b6" stroke="#262626" stroke-width="0.75"/>
<circle cx="146.87" cy="65.34" r="2.75" fill="#2a78bf" stroke="#262626" stroke-width="0.75"/>
<circle cx="303.33" cy="96.27" r="2.75" fill="#c8102e" stroke="#262626" stroke-width="0.75"/>
<circle cx="193.95" cy="192.09" r="2.75" fill="#c8102e" stroke="#262626" stroke-width="0.75"/>
<circle cx="237.34" cy="94.86" r="2.75" fill="#c8102e" stroke="#262626" stroke-width="0.75"/>
<line x1="45" y1="140.5" x2="330" y2="140.5" stroke="#df3d45" stroke-width="1.2"/>
<line x1="172.5" y1="12" x2="172.5" y2="236" stroke="#df3d45" stroke-width="1.2"/>
<rect x="243.5" y="12.5" width="86.8" height="68.8" fill="#fff" stroke="#3a3a3a" stroke-width="1"/>
<line x1="280.9" y1="12.5" x2="280.9" y2="81.8" stroke="#df3d45" stroke-width="1.6"/>
<line x1="243.5" y1="81.8" x2="330.3" y2="81.8" stroke="#df3d45" stroke-width="1.6"/>
<line x1="280.9" y1="81.8" x2="248.99" y2="26.08" stroke="#111" stroke-width="0.7"/><path d="M247.40,23.30 L250.38,25.28 L247.60,26.87 Z" fill="#111"/>
<line x1="280.9" y1="81.8" x2="319.69" y2="37.61" stroke="#111" stroke-width="0.7"/><path d="M321.80,35.20 L320.89,38.66 L318.49,36.55 Z" fill="#111"/>
<line x1="280.9" y1="81.8" x2="264.07" y2="60.22" stroke="#111" stroke-width="0.7"/><path d="M262.10,57.70 L265.33,59.24 L262.81,61.21 Z" fill="#111"/>
<line x1="280.9" y1="81.8" x2="301.03" y2="60.05" stroke="#111" stroke-width="0.7"/><path d="M303.20,57.70 L302.20,61.14 L299.85,58.96 Z" fill="#111"/>
<line x1="280.9" y1="81.8" x2="275.28" y2="76.25" stroke="#111" stroke-width="0.7"/><path d="M273.00,74.00 L276.40,75.11 L274.15,77.39 Z" fill="#111"/>
<line x1="280.9" y1="81.8" x2="284.90" y2="77.21" stroke="#111" stroke-width="0.7"/><path d="M287.00,74.80 L286.10,78.26 L283.69,76.16 Z" fill="#111"/>
<text x="252.5" y="22.5" font-size="9.5" text-anchor="middle" font-weight="normal" font-style="italic">λ</text>
<text x="320" y="30.8" font-size="9.5" text-anchor="middle" font-weight="normal" >Sn</text>
<text x="254.8" y="64.5" font-size="9.5" text-anchor="middle" font-weight="normal" >Ω</text>
<text x="309.5" y="63.5" font-size="9.5" text-anchor="middle" font-weight="normal" >R</text>
<text x="267.6" y="78" font-size="9.5" text-anchor="middle" font-weight="normal" >γ</text>
<text x="295" y="80" font-size="9.5" text-anchor="middle" font-weight="normal" >Df</text>
<circle cx="252.80" cy="172.50" r="2.75" fill="#c8102e" stroke="#262626" stroke-width="0.75"/>
<text x="260.5" y="175.9" font-size="9.6" text-anchor="start" font-weight="normal" >Fluvial</text>
<circle cx="252.80" cy="185.60" r="2.75" fill="#2a78bf" stroke="#262626" stroke-width="0.75"/>
<text x="260.5" y="189.0" font-size="9.6" text-anchor="start" font-weight="normal" >Glacial</text>
<circle cx="252.80" cy="198.70" r="2.75" fill="#1e9a4a" stroke="#262626" stroke-width="0.75"/>
<text x="260.5" y="202.1" font-size="9.6" text-anchor="start" font-weight="normal" >Sapping</text>
<circle cx="252.80" cy="211.80" r="2.75" fill="#f7d91c" stroke="#262626" stroke-width="0.75"/>
<text x="260.5" y="215.20000000000002" font-size="9.6" text-anchor="start" font-weight="normal" >Subglacial</text>
<circle cx="252.80" cy="224.90" r="2.75" fill="#a653b6" stroke="#262626" stroke-width="0.75"/>
<text x="260.5" y="228.3" font-size="9.6" text-anchor="start" font-weight="normal" >Undifferentiated</text>
<rect x="45.5" y="12.5" width="284.8" height="223.5" fill="none" stroke="#777777" stroke-width="1"/>
<text x="45.8" y="249" font-size="10.3" text-anchor="middle" font-weight="normal" >–0.8</text>
<line x1="77.5" y1="236" x2="77.5" y2="232" stroke="#777777" stroke-width="0.8"/>
<text x="77.5" y="249" font-size="10.3" text-anchor="middle" font-weight="normal" >–0.6</text>
<line x1="109.1" y1="236" x2="109.1" y2="232" stroke="#777777" stroke-width="0.8"/>
<text x="109.1" y="249" font-size="10.3" text-anchor="middle" font-weight="normal" >–0.4</text>
<line x1="140.8" y1="236" x2="140.8" y2="232" stroke="#777777" stroke-width="0.8"/>
<text x="140.8" y="249" font-size="10.3" text-anchor="middle" font-weight="normal" >–0.2</text>
<line x1="172.4" y1="236" x2="172.4" y2="232" stroke="#777777" stroke-width="0.8"/>
<text x="172.4" y="249" font-size="10.3" text-anchor="middle" font-weight="normal" >0</text>
<line x1="204.1" y1="236" x2="204.1" y2="232" stroke="#777777" stroke-width="0.8"/>
<text x="204.1" y="249" font-size="10.3" text-anchor="middle" font-weight="normal" >0.2</text>
<line x1="235.8" y1="236" x2="235.8" y2="232" stroke="#777777" stroke-width="0.8"/>
<text x="235.8" y="249" font-size="10.3" text-anchor="middle" font-weight="normal" >0.4</text>
<line x1="267.4" y1="236" x2="267.4" y2="232" stroke="#777777" stroke-width="0.8"/>
<text x="267.4" y="249" font-size="10.3" text-anchor="middle" font-weight="normal" >0.6</text>
<line x1="299.1" y1="236" x2="299.1" y2="232" stroke="#777777" stroke-width="0.8"/>
<text x="299.1" y="249" font-size="10.3" text-anchor="middle" font-weight="normal" >0.8</text>
<text x="330.7" y="249" font-size="10.3" text-anchor="middle" font-weight="normal" >1</text>
<text x="41" y="16.3" font-size="10.3" text-anchor="end" font-weight="normal" >0.8</text>
<line x1="45.5" y1="44.6" x2="49.5" y2="44.6" stroke="#777777" stroke-width="0.8"/>
<text x="41" y="48.2" font-size="10.3" text-anchor="end" font-weight="normal" >0.6</text>
<line x1="45.5" y1="76.5" x2="49.5" y2="76.5" stroke="#777777" stroke-width="0.8"/>
<text x="41" y="80.1" font-size="10.3" text-anchor="end" font-weight="normal" >0.4</text>
<line x1="45.5" y1="108.4" x2="49.5" y2="108.4" stroke="#777777" stroke-width="0.8"/>
<text x="41" y="112.0" font-size="10.3" text-anchor="end" font-weight="normal" >0.2</text>
<line x1="45.5" y1="140.3" x2="49.5" y2="140.3" stroke="#777777" stroke-width="0.8"/>
<text x="41" y="143.9" font-size="10.3" text-anchor="end" font-weight="normal" >0</text>
<line x1="45.5" y1="172.2" x2="49.5" y2="172.2" stroke="#777777" stroke-width="0.8"/>
<text x="41" y="175.8" font-size="10.3" text-anchor="end" font-weight="normal" >–0.2</text>
<line x1="45.5" y1="204.1" x2="49.5" y2="204.1" stroke="#777777" stroke-width="0.8"/>
<text x="41" y="207.7" font-size="10.3" text-anchor="end" font-weight="normal" >–0.4</text>
<text x="41" y="239.6" font-size="10.3" text-anchor="end" font-weight="normal" >–0.6</text>
<text x="188.5" y="266" font-size="10.4" text-anchor="middle" font-weight="normal" >1st principal component</text>
<text x="0" y="0" font-size="10.4" text-anchor="middle" font-weight="normal" transform="translate(9,124) rotate(-90)">2nd principal component</text>
<text x="-1" y="10" font-size="12" text-anchor="start" font-weight="bold" >a</text>
<g clip-path="url(#cb)">
<path d="M445.5,12 L501,12 L502,40 L503.5,70 L504.5,100 L507,118 L509.5,128 L511,136 L510,146 L507,156 L505,163 L452,165 L449,150 L447,125 L446.3,100 L446,60 Z" fill="#f1dd3e" filter="url(#rough)"/>
<path d="M445.5,12 L501,12 L502,40 L503.5,70 L504.5,100 L507,118 L509.5,128 L511,136 L510,146 L507,156 L505,163 L452,165 L449,150 L447,125 L446.3,100 L446,60 Z" fill="url(#wsp)"/>
<g fill="#f0db3c" fill-opacity="1.0"><circle cx="493.4" cy="167.5" r="0.68"/><circle cx="487.9" cy="163.6" r="0.74"/><circle cx="453.8" cy="176.0" r="0.89"/><circle cx="492.0" cy="166.0" r="0.84"/><circle cx="461.7" cy="174.4" r="0.71"/><circle cx="489.9" cy="170.0" r="0.84"/><circle cx="463.2" cy="175.5" r="0.64"/><circle cx="453.4" cy="167.0" r="0.53"/><circle cx="456.0" cy="171.4" r="0.55"/><circle cx="460.8" cy="166.4" r="0.61"/><circle cx="476.2" cy="173.9" r="0.61"/><circle cx="492.3" cy="165.4" r="0.54"/><circle cx="459.9" cy="172.5" r="0.69"/><circle cx="495.2" cy="168.8" r="0.58"/><circle cx="465.6" cy="172.4" r="0.66"/><circle cx="464.3" cy="165.3" r="0.88"/><circle cx="472.3" cy="169.6" r="0.70"/><circle cx="453.5" cy="173.3" r="0.80"/><circle cx="500.2" cy="167.4" r="0.58"/><circle cx="471.1" cy="173.0" r="0.76"/><circle cx="474.3" cy="169.9" r="0.56"/><circle cx="462.9" cy="172.8" r="0.64"/><circle cx="496.7" cy="163.4" r="0.61"/><circle cx="487.0" cy="169.2" r="0.65"/><circle cx="483.8" cy="165.3" r="0.67"/><circle cx="466.0" cy="174.5" r="0.72"/><circle cx="485.1" cy="171.4" r="0.55"/><circle cx="494.7" cy="166.4" r="0.85"/><circle cx="496.8" cy="168.6" r="0.77"/><circle cx="504.4" cy="164.8" r="0.54"/><circle cx="474.7" cy="169.6" r="0.56"/><circle cx="464.2" cy="175.0" r="0.66"/><circle cx="460.2" cy="164.7" r="0.73"/><circle cx="462.4" cy="169.1" r="0.72"/><circle cx="476.2" cy="169.6" r="0.83"/><circle cx="494.2" cy="170.5" r="0.72"/><circle cx="464.0" cy="173.7" r="0.62"/><circle cx="492.0" cy="165.4" r="0.73"/><circle cx="487.7" cy="167.6" r="0.69"/><circle cx="455.6" cy="171.7" r="0.78"/><circle cx="460.4" cy="170.3" r="0.79"/><circle cx="457.6" cy="174.6" r="0.85"/><circle cx="454.8" cy="165.7" r="0.53"/><circle cx="465.9" cy="163.3" r="0.70"/><circle cx="465.8" cy="166.5" r="0.68"/><circle cx="472.4" cy="173.8" r="0.79"/><circle cx="458.3" cy="165.4" r="0.50"/><circle cx="470.1" cy="163.6" r="0.78"/><circle cx="493.6" cy="168.2" r="0.87"/><circle cx="473.6" cy="166.7" r="0.53"/><circle cx="476.2" cy="168.6" r="0.81"/><circle cx="497.7" cy="169.1" r="0.57"/><circle cx="474.4" cy="171.9" r="0.72"/><circle cx="477.4" cy="170.6" r="0.60"/><circle cx="456.4" cy="167.5" r="0.85"/><circle cx="505.8" cy="162.2" r="0.75"/><circle cx="477.8" cy="164.0" r="0.62"/><circle cx="463.3" cy="171.6" r="0.76"/><circle cx="476.3" cy="166.9" r="0.74"/><circle cx="470.5" cy="163.9" r="0.77"/><circle cx="467.8" cy="173.9" r="0.62"/><circle cx="458.4" cy="173.0" r="0.53"/><circle cx="503.5" cy="162.4" r="0.79"/><circle cx="472.3" cy="164.7" r="0.66"/><circle cx="479.6" cy="168.2" r="0.55"/><circle cx="480.8" cy="166.5" r="0.89"/><circle cx="473.1" cy="168.5" r="0.59"/><circle cx="473.6" cy="173.3" r="0.61"/><circle cx="463.2" cy="168.6" r="0.81"/><circle cx="467.2" cy="164.3" r="0.71"/><circle cx="501.4" cy="165.6" r="0.72"/><circle cx="468.7" cy="170.8" r="0.78"/><circle cx="455.5" cy="175.9" r="0.54"/><circle cx="468.6" cy="172.7" r="0.51"/><circle cx="472.7" cy="163.9" r="0.69"/><circle cx="452.9" cy="164.3" r="0.59"/><circle cx="456.5" cy="163.4" r="0.58"/><circle cx="480.5" cy="164.1" r="0.83"/><circle cx="474.9" cy="165.8" r="0.60"/><circle cx="498.2" cy="162.7" r="0.80"/><circle cx="457.4" cy="176.2" r="0.66"/><circle cx="457.5" cy="163.0" r="0.78"/><circle cx="484.3" cy="172.8" r="0.61"/><circle cx="479.3" cy="164.8" r="0.67"/><circle cx="467.5" cy="170.8" r="0.62"/><circle cx="467.1" cy="171.6" r="0.53"/><circle cx="496.1" cy="169.4" r="0.59"/><circle cx="458.3" cy="169.6" r="0.70"/><circle cx="491.6" cy="167.6" r="0.66"/><circle cx="501.1" cy="166.1" r="0.89"/><circle cx="503.9" cy="165.9" r="0.83"/><circle cx="485.7" cy="165.1" r="0.90"/><circle cx="482.7" cy="163.2" r="0.85"/><circle cx="461.7" cy="165.9" r="0.75"/><circle cx="462.7" cy="168.9" r="0.79"/><circle cx="457.3" cy="171.9" r="0.54"/><circle cx="478.2" cy="171.7" r="0.77"/><circle cx="454.4" cy="164.9" r="0.88"/><circle cx="473.5" cy="168.4" r="0.65"/><circle cx="487.8" cy="168.0" r="0.73"/><circle cx="480.3" cy="164.8" r="0.88"/><circle cx="498.2" cy="165.6" r="0.80"/><circle cx="466.7" cy="173.8" r="0.69"/><circle cx="469.2" cy="167.5" r="0.82"/><circle cx="488.8" cy="164.6" r="0.56"/><circle cx="483.2" cy="165.2" r="0.63"/><circle cx="457.6" cy="164.3" r="0.79"/><circle cx="464.3" cy="174.7" r="0.63"/><circle cx="498.7" cy="166.5" r="0.61"/><circle cx="476.0" cy="167.7" r="0.51"/><circle cx="499.4" cy="167.6" r="0.50"/><circle cx="457.5" cy="172.6" r="0.73"/><circle cx="479.7" cy="165.7" r="0.61"/><circle cx="458.9" cy="174.7" r="0.51"/><circle cx="490.3" cy="170.2" r="0.83"/><circle cx="460.5" cy="170.1" r="0.61"/><circle cx="474.0" cy="164.9" r="0.78"/><circle cx="486.6" cy="171.0" r="0.87"/><circle cx="496.7" cy="170.5" r="0.63"/><circle cx="503.0" cy="167.6" r="0.54"/><circle cx="470.3" cy="172.6" r="0.87"/><circle cx="487.5" cy="171.9" r="0.87"/><circle cx="494.8" cy="168.7" r="0.68"/><circle cx="493.8" cy="166.8" r="0.54"/><circle cx="465.7" cy="172.3" r="0.86"/><circle cx="459.0" cy="164.0" r="0.70"/><circle cx="461.6" cy="163.1" r="0.68"/><circle cx="453.0" cy="169.2" r="0.66"/><circle cx="484.2" cy="165.6" r="0.62"/><circle cx="479.0" cy="167.9" r="0.76"/><circle cx="479.8" cy="166.8" r="0.74"/><circle cx="473.1" cy="165.9" r="0.75"/><circle cx="455.6" cy="170.1" r="0.65"/><circle cx="479.1" cy="168.1" r="0.54"/><circle cx="484.9" cy="163.7" r="0.74"/><circle cx="493.7" cy="162.7" r="0.85"/><circle cx="488.6" cy="166.1" r="0.87"/><circle cx="465.6" cy="170.7" r="0.65"/><circle cx="468.3" cy="173.4" r="0.75"/><circle cx="470.2" cy="170.1" r="0.87"/><circle cx="453.6" cy="168.9" r="0.72"/><circle cx="486.3" cy="169.2" r="0.75"/><circle cx="481.3" cy="172.6" r="0.88"/><circle cx="452.8" cy="166.8" r="0.85"/><circle cx="455.3" cy="173.9" r="0.51"/><circle cx="465.1" cy="167.7" r="0.59"/><circle cx="490.8" cy="169.9" r="0.74"/><circle cx="469.9" cy="170.8" r="0.88"/><circle cx="465.6" cy="169.7" r="0.65"/><circle cx="471.0" cy="174.1" r="0.57"/><circle cx="503.5" cy="162.3" r="0.61"/><circle cx="461.0" cy="174.6" r="0.66"/><circle cx="455.5" cy="166.9" r="0.56"/><circle cx="459.4" cy="166.6" r="0.78"/><circle cx="483.9" cy="163.8" r="0.82"/><circle cx="479.9" cy="164.1" r="0.83"/><circle cx="497.1" cy="165.3" r="0.88"/><circle cx="496.6" cy="165.4" r="0.50"/><circle cx="457.4" cy="173.5" r="0.81"/><circle cx="469.2" cy="172.3" r="0.77"/><circle cx="467.2" cy="165.8" r="0.72"/><circle cx="459.4" cy="174.9" r="0.86"/><circle cx="465.3" cy="172.5" r="0.77"/><circle cx="458.7" cy="173.7" r="0.81"/><circle cx="468.8" cy="163.5" r="0.61"/><circle cx="494.4" cy="169.0" r="0.83"/><circle cx="460.8" cy="163.6" r="0.64"/><circle cx="500.4" cy="164.4" r="0.53"/><circle cx="493.4" cy="163.4" r="0.77"/><circle cx="456.6" cy="165.7" r="0.77"/><circle cx="500.0" cy="168.1" r="0.68"/><circle cx="453.7" cy="167.1" r="0.60"/><circle cx="495.1" cy="170.0" r="0.78"/><circle cx="459.0" cy="167.8" r="0.62"/><circle cx="467.5" cy="173.1" r="0.59"/><circle cx="469.9" cy="166.2" r="0.85"/><circle cx="487.1" cy="169.2" r="0.65"/><circle cx="476.7" cy="170.5" r="0.85"/><circle cx="466.1" cy="165.9" r="0.54"/><circle cx="479.6" cy="173.5" r="0.56"/><circle cx="478.5" cy="167.7" r="0.84"/><circle cx="501.1" cy="167.6" r="0.55"/><circle cx="468.9" cy="169.7" r="0.62"/><circle cx="476.5" cy="169.0" r="0.86"/><circle cx="459.6" cy="175.8" r="0.76"/><circle cx="500.0" cy="168.2" r="0.90"/><circle cx="453.4" cy="174.7" r="0.83"/><circle cx="472.6" cy="174.4" r="0.59"/><circle cx="493.4" cy="169.0" r="0.66"/><circle cx="462.8" cy="174.0" r="0.79"/><circle cx="464.2" cy="167.6" r="0.67"/><circle cx="472.1" cy="163.6" r="0.53"/><circle cx="480.5" cy="170.7" r="0.68"/><circle cx="471.3" cy="168.3" r="0.57"/><circle cx="481.9" cy="168.4" r="0.60"/><circle cx="469.3" cy="169.4" r="0.68"/><circle cx="463.4" cy="162.8" r="0.56"/><circle cx="471.0" cy="173.7" r="0.86"/><circle cx="465.0" cy="173.7" r="0.68"/><circle cx="481.6" cy="170.0" r="0.52"/><circle cx="455.6" cy="172.0" r="0.78"/><circle cx="497.1" cy="166.5" r="0.53"/><circle cx="482.4" cy="171.8" r="0.59"/><circle cx="454.4" cy="169.3" r="0.51"/><circle cx="492.5" cy="171.4" r="0.61"/><circle cx="476.5" cy="165.5" r="0.57"/><circle cx="462.0" cy="174.2" r="0.68"/><circle cx="491.4" cy="167.2" r="0.82"/><circle cx="484.8" cy="171.8" r="0.66"/><circle cx="482.9" cy="164.9" r="0.89"/><circle cx="489.0" cy="170.0" r="0.76"/><circle cx="457.5" cy="167.0" r="0.59"/><circle cx="498.4" cy="162.2" r="0.68"/><circle cx="491.5" cy="166.5" r="0.59"/><circle cx="490.7" cy="166.5" r="0.79"/><circle cx="471.2" cy="173.4" r="0.73"/><circle cx="453.6" cy="170.2" r="0.66"/><circle cx="494.3" cy="166.7" r="0.58"/><circle cx="495.1" cy="170.3" r="0.80"/><circle cx="478.9" cy="162.5" r="0.81"/><circle cx="464.0" cy="169.1" r="0.50"/><circle cx="466.2" cy="172.0" r="0.81"/><circle cx="487.0" cy="168.6" r="0.79"/><circle cx="488.8" cy="165.1" r="0.71"/><circle cx="484.9" cy="172.9" r="0.58"/><circle cx="469.1" cy="167.1" r="0.54"/><circle cx="471.2" cy="172.9" r="0.73"/><circle cx="461.5" cy="173.0" r="0.55"/><circle cx="493.3" cy="164.2" r="0.54"/><circle cx="465.8" cy="169.7" r="0.61"/><circle cx="467.6" cy="173.2" r="0.78"/><circle cx="482.9" cy="165.8" r="0.88"/><circle cx="504.6" cy="162.2" r="0.63"/><circle cx="469.7" cy="165.0" r="0.67"/><circle cx="501.4" cy="162.4" r="0.83"/><circle cx="501.5" cy="166.1" r="0.58"/><circle cx="458.4" cy="167.5" r="0.55"/><circle cx="461.9" cy="165.8" r="0.73"/><circle cx="476.5" cy="166.6" r="0.71"/><circle cx="495.5" cy="170.4" r="0.69"/><circle cx="470.1" cy="164.0" r="0.85"/><circle cx="485.5" cy="163.5" r="0.87"/><circle cx="500.8" cy="162.5" r="0.78"/><circle cx="465.1" cy="170.0" r="0.83"/><circle cx="471.3" cy="169.5" r="0.77"/><circle cx="462.6" cy="171.4" r="0.67"/><circle cx="491.1" cy="162.6" r="0.61"/><circle cx="458.5" cy="164.2" r="0.71"/><circle cx="461.6" cy="173.9" r="0.54"/><circle cx="459.0" cy="165.3" r="0.81"/><circle cx="470.6" cy="168.0" r="0.88"/><circle cx="501.0" cy="165.0" r="0.72"/><circle cx="503.8" cy="163.8" r="0.84"/><circle cx="485.0" cy="163.5" r="0.88"/><circle cx="457.6" cy="173.8" r="0.79"/><circle cx="469.5" cy="172.3" r="0.66"/><circle cx="493.3" cy="162.7" r="0.87"/><circle cx="473.1" cy="174.0" r="0.69"/><circle cx="496.7" cy="166.5" r="0.72"/><circle cx="453.4" cy="169.3" r="0.53"/><circle cx="456.5" cy="172.6" r="0.79"/><circle cx="502.8" cy="166.1" r="0.52"/><circle cx="492.7" cy="165.1" r="0.56"/><circle cx="484.1" cy="164.0" r="0.67"/><circle cx="475.1" cy="162.9" r="0.90"/><circle cx="457.7" cy="176.3" r="0.84"/><circle cx="492.2" cy="162.6" r="0.78"/><circle cx="479.1" cy="169.4" r="0.56"/><circle cx="459.2" cy="175.1" r="0.67"/><circle cx="466.6" cy="165.6" r="0.68"/><circle cx="487.6" cy="170.5" r="0.86"/><circle cx="480.1" cy="169.7" r="0.90"/><circle cx="470.1" cy="166.7" r="0.55"/><circle cx="468.6" cy="172.9" r="0.58"/><circle cx="482.5" cy="170.9" r="0.81"/><circle cx="461.2" cy="167.2" r="0.83"/><circle cx="458.5" cy="165.2" r="0.54"/><circle cx="480.4" cy="170.4" r="0.87"/><circle cx="487.7" cy="171.8" r="0.74"/><circle cx="479.2" cy="173.4" r="0.73"/><circle cx="459.1" cy="168.4" r="0.67"/><circle cx="475.8" cy="170.4" r="0.64"/><circle cx="473.5" cy="168.4" r="0.65"/><circle cx="505.5" cy="163.4" r="0.51"/><circle cx="491.7" cy="167.9" r="0.68"/><circle cx="484.5" cy="167.5" r="0.60"/><circle cx="503.6" cy="166.3" r="0.69"/><circle cx="469.8" cy="162.9" r="0.86"/><circle cx="498.0" cy="165.6" r="0.60"/><circle cx="477.8" cy="167.8" r="0.59"/><circle cx="499.2" cy="163.7" r="0.74"/><circle cx="477.3" cy="164.2" r="0.52"/><circle cx="492.3" cy="163.0" r="0.82"/><circle cx="488.6" cy="169.1" r="0.86"/><circle cx="457.5" cy="170.8" r="0.67"/><circle cx="492.2" cy="163.8" r="0.59"/><circle cx="470.8" cy="170.6" r="0.63"/><circle cx="476.2" cy="174.2" r="0.57"/><circle cx="491.6" cy="167.0" r="0.88"/><circle cx="485.3" cy="163.7" r="0.66"/><circle cx="486.3" cy="171.6" r="0.64"/><circle cx="453.9" cy="163.9" r="0.72"/><circle cx="461.4" cy="166.6" r="0.75"/><circle cx="466.0" cy="170.8" r="0.61"/><circle cx="495.0" cy="164.3" r="0.60"/><circle cx="461.1" cy="164.9" r="0.55"/><circle cx="463.8" cy="167.0" r="0.66"/><circle cx="493.8" cy="168.1" r="0.69"/><circle cx="473.8" cy="173.6" r="0.86"/><circle cx="480.9" cy="172.2" r="0.65"/><circle cx="466.9" cy="164.0" r="0.85"/><circle cx="471.8" cy="172.5" r="0.68"/><circle cx="481.0" cy="165.1" r="0.57"/><circle cx="470.5" cy="172.2" r="0.72"/><circle cx="475.8" cy="163.0" r="0.60"/><circle cx="463.6" cy="174.3" r="0.72"/><circle cx="470.0" cy="165.7" r="0.62"/><circle cx="467.4" cy="167.2" r="0.82"/><circle cx="461.0" cy="165.9" r="0.71"/><circle cx="475.6" cy="165.6" r="0.89"/><circle cx="493.4" cy="167.1" r="0.52"/><circle cx="498.6" cy="163.8" r="0.76"/><circle cx="468.3" cy="163.5" r="0.58"/><circle cx="487.4" cy="172.2" r="0.61"/><circle cx="467.0" cy="163.3" r="0.89"/><circle cx="454.4" cy="171.2" r="0.64"/><circle cx="462.3" cy="168.5" r="0.87"/><circle cx="465.6" cy="164.5" r="0.75"/><circle cx="488.1" cy="169.7" r="0.57"/><circle cx="500.1" cy="163.7" r="0.57"/></g>
<g fill="#f2df55" fill-opacity="1.0"><circle cx="510.1" cy="137.6" r="0.76"/><circle cx="516.6" cy="146.5" r="0.95"/><circle cx="511.7" cy="122.0" r="0.82"/><circle cx="511.2" cy="151.7" r="0.86"/><circle cx="507.3" cy="144.8" r="0.91"/><circle cx="518.8" cy="129.4" r="0.61"/><circle cx="508.5" cy="132.9" r="0.61"/><circle cx="513.1" cy="139.2" r="0.80"/><circle cx="513.5" cy="149.6" r="0.59"/><circle cx="511.9" cy="155.2" r="0.94"/><circle cx="524.3" cy="148.1" r="0.79"/><circle cx="521.5" cy="140.0" r="0.60"/><circle cx="510.4" cy="120.1" r="0.94"/><circle cx="511.8" cy="133.1" r="0.79"/><circle cx="507.1" cy="145.6" r="0.91"/><circle cx="511.7" cy="122.1" r="0.89"/><circle cx="519.6" cy="131.6" r="0.70"/><circle cx="508.2" cy="150.9" r="0.76"/><circle cx="511.7" cy="137.6" r="0.89"/><circle cx="519.6" cy="133.0" r="0.94"/><circle cx="521.0" cy="139.3" r="0.71"/><circle cx="510.7" cy="153.2" r="0.91"/><circle cx="509.1" cy="156.5" r="0.57"/><circle cx="522.0" cy="138.2" r="0.80"/><circle cx="516.3" cy="133.2" r="0.80"/><circle cx="506.9" cy="154.6" r="0.60"/><circle cx="507.9" cy="144.2" r="0.84"/><circle cx="521.9" cy="145.1" r="0.97"/><circle cx="510.0" cy="148.7" r="0.62"/><circle cx="516.2" cy="148.4" r="0.62"/><circle cx="516.1" cy="153.8" r="0.89"/><circle cx="513.4" cy="136.1" r="0.68"/><circle cx="519.3" cy="128.8" r="0.88"/><circle cx="515.2" cy="149.5" r="0.71"/><circle cx="523.5" cy="144.8" r="0.75"/><circle cx="516.8" cy="149.8" r="0.79"/><circle cx="523.8" cy="146.0" r="0.77"/><circle cx="512.1" cy="146.0" r="0.92"/><circle cx="507.6" cy="119.2" r="0.81"/><circle cx="511.8" cy="127.0" r="0.75"/><circle cx="506.6" cy="154.2" r="0.93"/><circle cx="516.7" cy="134.7" r="0.69"/><circle cx="517.7" cy="130.6" r="0.99"/><circle cx="525.1" cy="146.5" r="0.92"/><circle cx="509.7" cy="125.3" r="0.56"/><circle cx="516.1" cy="128.6" r="0.85"/><circle cx="516.8" cy="141.1" r="0.68"/><circle cx="520.4" cy="144.9" r="0.87"/><circle cx="514.9" cy="135.5" r="0.68"/><circle cx="522.9" cy="150.3" r="0.77"/><circle cx="508.7" cy="127.4" r="0.88"/><circle cx="512.3" cy="141.1" r="0.60"/><circle cx="511.4" cy="123.4" r="0.98"/><circle cx="517.4" cy="150.7" r="0.58"/><circle cx="516.4" cy="146.8" r="0.99"/><circle cx="516.2" cy="156.2" r="0.66"/><circle cx="510.5" cy="139.5" r="0.71"/><circle cx="517.1" cy="155.2" r="0.98"/><circle cx="513.7" cy="155.7" r="0.66"/><circle cx="512.7" cy="140.4" r="0.66"/><circle cx="519.9" cy="143.4" r="0.59"/><circle cx="519.6" cy="130.6" r="0.61"/><circle cx="521.8" cy="135.3" r="0.91"/><circle cx="516.2" cy="127.5" r="0.78"/><circle cx="519.1" cy="151.4" r="0.73"/><circle cx="516.7" cy="151.6" r="0.64"/><circle cx="516.3" cy="140.1" r="0.62"/><circle cx="508.9" cy="133.3" r="0.82"/><circle cx="506.9" cy="146.0" r="0.61"/><circle cx="510.4" cy="149.9" r="0.94"/><circle cx="517.6" cy="131.3" r="0.56"/><circle cx="514.1" cy="126.0" r="0.81"/><circle cx="506.6" cy="145.2" r="0.60"/><circle cx="509.7" cy="134.4" r="0.99"/><circle cx="511.8" cy="129.3" r="0.76"/><circle cx="508.4" cy="132.9" r="0.87"/><circle cx="511.8" cy="149.4" r="0.63"/><circle cx="507.1" cy="142.3" r="0.75"/><circle cx="520.7" cy="144.1" r="0.72"/><circle cx="507.7" cy="141.7" r="0.89"/><circle cx="514.9" cy="135.8" r="0.86"/><circle cx="517.8" cy="133.8" r="0.63"/><circle cx="514.7" cy="139.1" r="0.95"/><circle cx="511.9" cy="125.4" r="0.83"/><circle cx="513.2" cy="155.4" r="0.75"/><circle cx="518.7" cy="152.4" r="0.64"/><circle cx="506.4" cy="128.9" r="0.76"/><circle cx="520.6" cy="142.5" r="0.97"/><circle cx="516.0" cy="142.6" r="0.64"/><circle cx="523.0" cy="133.4" r="0.98"/><circle cx="512.5" cy="142.0" r="0.79"/><circle cx="510.5" cy="148.8" r="0.55"/><circle cx="510.2" cy="129.5" r="0.95"/><circle cx="511.3" cy="141.6" r="0.91"/><circle cx="507.3" cy="148.7" r="0.73"/><circle cx="516.0" cy="133.7" r="0.75"/><circle cx="524.3" cy="146.9" r="0.87"/><circle cx="508.0" cy="117.5" r="0.92"/><circle cx="519.1" cy="142.5" r="0.69"/><circle cx="510.6" cy="154.7" r="0.79"/><circle cx="520.2" cy="150.0" r="0.91"/><circle cx="522.7" cy="150.8" r="0.78"/><circle cx="509.9" cy="152.0" r="0.60"/><circle cx="521.2" cy="149.7" r="0.81"/><circle cx="506.7" cy="147.5" r="0.65"/><circle cx="511.8" cy="130.3" r="0.99"/><circle cx="506.3" cy="134.3" r="0.61"/><circle cx="519.7" cy="137.8" r="0.90"/><circle cx="512.1" cy="133.4" r="0.88"/><circle cx="519.8" cy="153.3" r="0.69"/></g>
<path d="M473.6,12 Q475.5,80 477.5,115 T481.5,160" fill="none" stroke="#e8cd14" stroke-width="1.9" opacity="0.9"/>
<path d="M447.6,176.9 L486.7,172.3 L510.7,188 L471.5,192.7 Z" fill="#4a5ca8" filter="url(#soft)"/>
<g fill="#efd93a" fill-opacity="1.0"><circle cx="472.1" cy="176.8" r="0.73"/><circle cx="477.6" cy="179.0" r="0.58"/><circle cx="473.7" cy="174.9" r="0.73"/><circle cx="465.8" cy="175.3" r="0.56"/><circle cx="484.6" cy="174.3" r="0.61"/><circle cx="462.6" cy="178.2" r="0.69"/><circle cx="474.3" cy="178.6" r="0.81"/><circle cx="459.8" cy="179.4" r="0.55"/><circle cx="460.5" cy="175.9" r="0.67"/><circle cx="464.6" cy="175.9" r="0.51"/><circle cx="456.3" cy="177.8" r="0.72"/><circle cx="473.6" cy="179.6" r="0.75"/><circle cx="473.7" cy="176.5" r="0.53"/><circle cx="458.0" cy="176.1" r="0.58"/><circle cx="481.1" cy="176.5" r="0.87"/><circle cx="461.1" cy="178.5" r="0.77"/><circle cx="460.2" cy="176.5" r="0.54"/><circle cx="479.9" cy="174.4" r="0.55"/><circle cx="461.7" cy="179.2" r="0.75"/><circle cx="470.4" cy="181.5" r="0.80"/><circle cx="459.3" cy="178.1" r="0.57"/><circle cx="472.7" cy="178.1" r="0.51"/><circle cx="455.3" cy="178.4" r="0.74"/><circle cx="460.4" cy="178.7" r="0.71"/><circle cx="465.8" cy="176.9" r="0.72"/><circle cx="478.9" cy="178.2" r="0.79"/><circle cx="459.6" cy="178.5" r="0.68"/><circle cx="460.1" cy="180.7" r="0.59"/><circle cx="476.8" cy="177.6" r="0.67"/><circle cx="476.7" cy="180.1" r="0.90"/><circle cx="461.2" cy="179.5" r="0.70"/><circle cx="468.5" cy="178.1" r="0.62"/><circle cx="455.7" cy="177.6" r="0.53"/><circle cx="458.0" cy="177.2" r="0.64"/><circle cx="469.5" cy="178.1" r="0.66"/><circle cx="461.8" cy="176.2" r="0.63"/><circle cx="478.0" cy="177.7" r="0.82"/><circle cx="459.2" cy="176.4" r="0.66"/><circle cx="467.4" cy="178.5" r="0.89"/><circle cx="474.5" cy="178.7" r="0.83"/><circle cx="478.1" cy="176.4" r="0.76"/><circle cx="464.9" cy="175.4" r="0.86"/><circle cx="469.0" cy="182.8" r="0.55"/><circle cx="459.4" cy="180.9" r="0.53"/><circle cx="466.5" cy="180.7" r="0.79"/><circle cx="479.8" cy="173.7" r="0.86"/><circle cx="464.5" cy="181.0" r="0.69"/><circle cx="472.1" cy="181.6" r="0.56"/><circle cx="468.8" cy="177.4" r="0.54"/><circle cx="477.3" cy="177.8" r="0.74"/><circle cx="482.5" cy="174.2" r="0.60"/><circle cx="456.8" cy="177.9" r="0.73"/><circle cx="468.1" cy="177.4" r="0.56"/><circle cx="477.1" cy="178.1" r="0.62"/><circle cx="454.4" cy="176.6" r="0.68"/><circle cx="461.0" cy="180.3" r="0.86"/><circle cx="456.9" cy="177.8" r="0.89"/><circle cx="483.1" cy="177.2" r="0.54"/><circle cx="468.0" cy="177.9" r="0.81"/><circle cx="486.5" cy="172.6" r="0.74"/><circle cx="466.8" cy="182.2" r="0.59"/><circle cx="482.7" cy="174.9" r="0.52"/><circle cx="464.4" cy="180.0" r="0.51"/><circle cx="470.1" cy="178.2" r="0.54"/><circle cx="472.3" cy="177.2" r="0.63"/><circle cx="478.7" cy="177.5" r="0.90"/><circle cx="473.4" cy="179.1" r="0.84"/><circle cx="473.2" cy="178.9" r="0.81"/><circle cx="459.8" cy="179.4" r="0.53"/><circle cx="479.9" cy="178.2" r="0.64"/><circle cx="460.4" cy="178.4" r="0.84"/><circle cx="464.9" cy="177.1" r="0.73"/><circle cx="458.3" cy="178.6" r="0.63"/><circle cx="468.6" cy="180.0" r="0.51"/><circle cx="469.8" cy="175.8" r="0.74"/><circle cx="480.7" cy="177.4" r="0.75"/><circle cx="469.9" cy="178.1" r="0.59"/><circle cx="478.8" cy="177.7" r="0.64"/><circle cx="460.9" cy="181.3" r="0.86"/><circle cx="484.8" cy="175.1" r="0.53"/><circle cx="463.8" cy="177.1" r="0.77"/><circle cx="457.6" cy="176.3" r="0.81"/><circle cx="475.8" cy="178.6" r="0.54"/><circle cx="472.0" cy="182.2" r="0.72"/><circle cx="470.1" cy="175.5" r="0.69"/><circle cx="458.9" cy="179.0" r="0.70"/><circle cx="468.6" cy="182.2" r="0.80"/><circle cx="476.5" cy="178.8" r="0.76"/><circle cx="467.8" cy="181.3" r="0.74"/><circle cx="457.8" cy="179.9" r="0.87"/></g>
<g fill="#ffffff" fill-opacity="0.5"><circle cx="494.9" cy="189.2" r="0.72"/><circle cx="492.8" cy="186.7" r="0.46"/><circle cx="468.9" cy="186.7" r="0.46"/><circle cx="479.6" cy="184.4" r="0.66"/><circle cx="491.2" cy="184.6" r="0.75"/><circle cx="480.7" cy="184.7" r="0.68"/><circle cx="480.7" cy="186.6" r="0.66"/><circle cx="489.0" cy="187.7" r="0.51"/><circle cx="478.0" cy="189.7" r="0.49"/><circle cx="468.0" cy="187.9" r="0.66"/><circle cx="491.3" cy="186.4" r="0.43"/><circle cx="480.5" cy="191.0" r="0.71"/><circle cx="485.6" cy="187.9" r="0.67"/><circle cx="481.8" cy="185.5" r="0.68"/><circle cx="466.9" cy="186.5" r="0.74"/><circle cx="483.6" cy="188.1" r="0.68"/><circle cx="480.7" cy="187.1" r="0.62"/><circle cx="496.5" cy="189.2" r="0.46"/><circle cx="494.5" cy="186.3" r="0.72"/><circle cx="486.7" cy="188.8" r="0.70"/><circle cx="472.2" cy="190.7" r="0.62"/><circle cx="471.7" cy="187.3" r="0.54"/><circle cx="488.1" cy="187.9" r="0.62"/><circle cx="475.6" cy="189.5" r="0.61"/><circle cx="480.9" cy="186.1" r="0.49"/><circle cx="487.5" cy="186.7" r="0.77"/><circle cx="472.5" cy="188.1" r="0.44"/><circle cx="475.7" cy="184.6" r="0.60"/><circle cx="475.8" cy="186.2" r="0.77"/><circle cx="498.1" cy="189.2" r="0.56"/></g>
<path d="M482,186 L484,181.5 L495,176.5 L497,180 Z" fill="#45b452"/>
<line x1="495" y1="178.3" x2="507" y2="173.4" stroke="#45b452" stroke-width="1.6"/>
<path d="M508,176 L511.6,164.7 L527,153.2 L529.5,145.5 L534.6,139.2 L537.1,134 L543.5,131.5 L548.6,136.6 L549.9,152 L546.1,160.9 L537.1,163.4 L527,168.5 L520.5,174.9 L514.2,176.8 Z" fill="#d9aadd" filter="url(#soft2)"/>
<path d="M561.6,154.3 L580,151.9 L604.6,146.9 L621,139.6 L637.5,134.3 L647.3,135.5 L655,139 L660.5,144.5 L652.2,151.5 L634.2,157 L612.8,161 L580,162.3 L562.4,160.5 Z" fill="#e9777b" filter="url(#soft2)"/>
</g>
<line x1="399.5" y1="161.7" x2="684" y2="161.7" stroke="#ec9a9c" stroke-width="1.3"/>
<line x1="533.5" y1="12.5" x2="533.5" y2="236" stroke="#e24a50" stroke-width="1.1"/>
<circle cx="442.80" cy="70.00" r="2.75" fill="#f7d91c" stroke="#262626" stroke-width="0.75"/>
<circle cx="445.34" cy="94.91" r="2.75" fill="#f7d91c" stroke="#262626" stroke-width="0.75"/>
<circle cx="429.74" cy="117.35" r="2.75" fill="#f7d91c" stroke="#262626" stroke-width="0.75"/>
<circle cx="486.12" cy="136.31" r="2.75" fill="#f7d91c" stroke="#262626" stroke-width="0.75"/>
<circle cx="457.27" cy="151.10" r="2.75" fill="#f7d91c" stroke="#262626" stroke-width="0.75"/>
<circle cx="442.61" cy="162.21" r="2.75" fill="#f7d91c" stroke="#262626" stroke-width="0.75"/>
<circle cx="492.99" cy="154.27" r="2.75" fill="#f7d91c" stroke="#262626" stroke-width="0.75"/>
<circle cx="500.03" cy="148.61" r="2.75" fill="#f7d91c" stroke="#262626" stroke-width="0.75"/>
<circle cx="497.21" cy="177.70" r="2.75" fill="#1e9a4a" stroke="#262626" stroke-width="0.75"/>
<circle cx="496.37" cy="181.47" r="2.75" fill="#2a78bf" stroke="#262626" stroke-width="0.75"/>
<circle cx="506.05" cy="143.85" r="2.75" fill="#f7d91c" stroke="#262626" stroke-width="0.75"/>
<circle cx="505.11" cy="152.49" r="2.75" fill="#f7d91c" stroke="#262626" stroke-width="0.75"/>
<circle cx="520.90" cy="158.34" r="2.75" fill="#f7d91c" stroke="#262626" stroke-width="0.75"/>
<circle cx="533.11" cy="124.69" r="2.75" fill="#f7d91c" stroke="#262626" stroke-width="0.75"/>
<circle cx="538.38" cy="130.35" r="2.75" fill="#f7d91c" stroke="#262626" stroke-width="0.75"/>
<circle cx="548.15" cy="134.62" r="2.75" fill="#f7d91c" stroke="#262626" stroke-width="0.75"/>
<circle cx="538.94" cy="141.67" r="2.75" fill="#f7d91c" stroke="#262626" stroke-width="0.75"/>
<circle cx="542.14" cy="151.10" r="2.75" fill="#a653b6" stroke="#262626" stroke-width="0.75"/>
<circle cx="542.51" cy="153.48" r="2.75" fill="#a653b6" stroke="#262626" stroke-width="0.75"/>
<circle cx="543.17" cy="159.33" r="2.75" fill="#a653b6" stroke="#262626" stroke-width="0.75"/>
<circle cx="547.12" cy="164.59" r="2.75" fill="#c8102e" stroke="#262626" stroke-width="0.75"/>
<circle cx="506.05" cy="168.47" r="2.75" fill="#a653b6" stroke="#262626" stroke-width="0.75"/>
<circle cx="508.87" cy="172.83" r="2.75" fill="#1e9a4a" stroke="#262626" stroke-width="0.75"/>
<circle cx="511.97" cy="175.41" r="2.75" fill="#2a78bf" stroke="#262626" stroke-width="0.75"/>
<circle cx="521.84" cy="170.65" r="2.75" fill="#1e9a4a" stroke="#262626" stroke-width="0.75"/>
<circle cx="527.38" cy="167.77" r="2.75" fill="#a653b6" stroke="#262626" stroke-width="0.75"/>
<circle cx="531.42" cy="174.72" r="2.75" fill="#a653b6" stroke="#262626" stroke-width="0.75"/>
<circle cx="526.63" cy="176.11" r="2.75" fill="#2a78bf" stroke="#262626" stroke-width="0.75"/>
<circle cx="528.42" cy="181.27" r="2.75" fill="#a653b6" stroke="#262626" stroke-width="0.75"/>
<circle cx="508.87" cy="181.67" r="2.75" fill="#a653b6" stroke="#262626" stroke-width="0.75"/>
<circle cx="522.12" cy="182.76" r="2.75" fill="#2a78bf" stroke="#262626" stroke-width="0.75"/>
<circle cx="520.24" cy="183.85" r="2.75" fill="#a653b6" stroke="#262626" stroke-width="0.75"/>
<circle cx="502.67" cy="192.09" r="2.75" fill="#2a78bf" stroke="#262626" stroke-width="0.75"/>
<circle cx="542.79" cy="181.17" r="2.75" fill="#a653b6" stroke="#262626" stroke-width="0.75"/>
<circle cx="546.65" cy="183.26" r="2.75" fill="#a653b6" stroke="#262626" stroke-width="0.75"/>
<circle cx="547.12" cy="185.44" r="2.75" fill="#a653b6" stroke="#262626" stroke-width="0.75"/>
<circle cx="541.10" cy="191.99" r="2.75" fill="#a653b6" stroke="#262626" stroke-width="0.75"/>
<circle cx="551.53" cy="123.10" r="2.75" fill="#f7d91c" stroke="#262626" stroke-width="0.75"/>
<circle cx="556.61" cy="136.90" r="2.75" fill="#f7d91c" stroke="#262626" stroke-width="0.75"/>
<circle cx="562.06" cy="144.15" r="2.75" fill="#f7d91c" stroke="#262626" stroke-width="0.75"/>
<circle cx="562.15" cy="159.33" r="2.75" fill="#c8102e" stroke="#262626" stroke-width="0.75"/>
<circle cx="551.25" cy="167.47" r="2.75" fill="#a653b6" stroke="#262626" stroke-width="0.75"/>
<circle cx="556.05" cy="165.98" r="2.75" fill="#c8102e" stroke="#262626" stroke-width="0.75"/>
<circle cx="557.64" cy="171.34" r="2.75" fill="#c8102e" stroke="#262626" stroke-width="0.75"/>
<circle cx="562.44" cy="176.01" r="2.75" fill="#a653b6" stroke="#262626" stroke-width="0.75"/>
<circle cx="569.77" cy="170.35" r="2.75" fill="#a653b6" stroke="#262626" stroke-width="0.75"/>
<circle cx="569.30" cy="173.53" r="2.75" fill="#a653b6" stroke="#262626" stroke-width="0.75"/>
<circle cx="576.63" cy="166.98" r="2.75" fill="#c8102e" stroke="#262626" stroke-width="0.75"/>
<circle cx="583.49" cy="167.47" r="2.75" fill="#c8102e" stroke="#262626" stroke-width="0.75"/>
<circle cx="583.49" cy="172.34" r="2.75" fill="#c8102e" stroke="#262626" stroke-width="0.75"/>
<circle cx="597.87" cy="131.14" r="2.75" fill="#f7d91c" stroke="#262626" stroke-width="0.75"/>
<circle cx="593.64" cy="159.73" r="2.75" fill="#c8102e" stroke="#262626" stroke-width="0.75"/>
<circle cx="599.28" cy="156.75" r="2.75" fill="#c8102e" stroke="#262626" stroke-width="0.75"/>
<circle cx="604.73" cy="162.21" r="2.75" fill="#c8102e" stroke="#262626" stroke-width="0.75"/>
<circle cx="600.50" cy="166.08" r="2.75" fill="#c8102e" stroke="#262626" stroke-width="0.75"/>
<circle cx="599.56" cy="168.07" r="2.75" fill="#c8102e" stroke="#262626" stroke-width="0.75"/>
<circle cx="616.85" cy="149.41" r="2.75" fill="#c8102e" stroke="#262626" stroke-width="0.75"/>
<circle cx="666.19" cy="148.51" r="2.75" fill="#c8102e" stroke="#262626" stroke-width="0.75"/>
<circle cx="520.99" cy="114.47" r="2.75" fill="#f7d91c" stroke="#262626" stroke-width="0.75"/>
<circle cx="597.68" cy="109.01" r="2.75" fill="#f7d91c" stroke="#262626" stroke-width="0.75"/>
<circle cx="503.23" cy="203.21" r="2.75" fill="#2a78bf" stroke="#262626" stroke-width="0.75"/>
<circle cx="508.12" cy="216.21" r="2.75" fill="#2a78bf" stroke="#262626" stroke-width="0.75"/>
<circle cx="474.10" cy="203.50" r="2.75" fill="#2a78bf" stroke="#262626" stroke-width="0.75"/>
<circle cx="474.85" cy="207.57" r="2.75" fill="#2a78bf" stroke="#262626" stroke-width="0.75"/>
<circle cx="476.54" cy="217.60" r="2.75" fill="#f7d91c" stroke="#262626" stroke-width="0.75"/>
<rect x="591.6" y="12.7" width="93" height="73.6" fill="#fff" stroke="#333" stroke-width="1.1"/>
<line x1="631" y1="12.7" x2="631" y2="86.3" stroke="#df3d45" stroke-width="1.7"/>
<line x1="591.6" y1="62" x2="684" y2="62" stroke="#df3d45" stroke-width="1.7"/>
<line x1="631" y1="62" x2="610.31" y2="23.42" stroke="#111" stroke-width="0.7"/><path d="M608.80,20.60 L611.72,22.66 L608.90,24.18 Z" fill="#111"/>
<line x1="631" y1="62" x2="652.13" y2="59.13" stroke="#111" stroke-width="0.7"/><path d="M655.30,58.70 L652.34,60.72 L651.91,57.55 Z" fill="#111"/>
<line x1="631" y1="62" x2="670.51" y2="58.30" stroke="#111" stroke-width="0.7"/><path d="M673.70,58.00 L670.66,59.89 L670.36,56.71 Z" fill="#111"/>
<line x1="631" y1="62" x2="625.30" y2="59.35" stroke="#111" stroke-width="0.7"/><path d="M622.40,58.00 L625.98,57.90 L624.63,60.80 Z" fill="#111"/>
<line x1="631" y1="62" x2="634.03" y2="62.39" stroke="#111" stroke-width="0.7"/><path d="M637.20,62.80 L633.82,63.98 L634.23,60.80 Z" fill="#111"/>
<line x1="631" y1="62" x2="600.47" y2="82.04" stroke="#111" stroke-width="0.7"/><path d="M597.80,83.80 L599.60,80.71 L601.35,83.38 Z" fill="#111"/>
<text x="618" y="25" font-size="9.5" text-anchor="middle" font-weight="normal" >Ω</text>
<text x="650.7" y="55" font-size="9.5" text-anchor="middle" font-weight="normal" >R</text>
<text x="673.7" y="55" font-size="9.5" text-anchor="middle" font-weight="normal" >Sn</text>
<text x="617.8" y="61" font-size="9.5" text-anchor="middle" font-weight="normal" >γ</text>
<text x="639.5" y="74" font-size="9.5" text-anchor="middle" font-weight="normal" >Df</text>
<text x="597.8" y="79" font-size="9.5" text-anchor="middle" font-weight="normal" font-style="italic">λ</text>
<path d="M399.5,12.5 L684.5,12.5 L684.5,236 L399.5,236 Z" fill="none" stroke="#777777" stroke-width="1"/>
<line x1="406.9" y1="236" x2="406.9" y2="232" stroke="#777777" stroke-width="0.8"/>
<text x="406.9" y="249" font-size="10.3" text-anchor="middle" font-weight="normal" >–0.8</text>
<line x1="438.5" y1="236" x2="438.5" y2="232" stroke="#777777" stroke-width="0.8"/>
<text x="438.5" y="249" font-size="10.3" text-anchor="middle" font-weight="normal" >–0.6</text>
<line x1="470.2" y1="236" x2="470.2" y2="232" stroke="#777777" stroke-width="0.8"/>
<text x="470.2" y="249" font-size="10.3" text-anchor="middle" font-weight="normal" >–0.4</text>
<line x1="501.8" y1="236" x2="501.8" y2="232" stroke="#777777" stroke-width="0.8"/>
<text x="501.8" y="249" font-size="10.3" text-anchor="middle" font-weight="normal" >–0.2</text>
<line x1="533.4" y1="236" x2="533.4" y2="232" stroke="#777777" stroke-width="0.8"/>
<text x="533.4" y="249" font-size="10.3" text-anchor="middle" font-weight="normal" >0</text>
<line x1="565.0" y1="236" x2="565.0" y2="232" stroke="#777777" stroke-width="0.8"/>
<text x="565.0" y="249" font-size="10.3" text-anchor="middle" font-weight="normal" >0.2</text>
<line x1="596.6" y1="236" x2="596.6" y2="232" stroke="#777777" stroke-width="0.8"/>
<text x="596.6" y="249" font-size="10.3" text-anchor="middle" font-weight="normal" >0.4</text>
<line x1="628.3" y1="236" x2="628.3" y2="232" stroke="#777777" stroke-width="0.8"/>
<text x="628.3" y="249" font-size="10.3" text-anchor="middle" font-weight="normal" >0.6</text>
<line x1="659.9" y1="236" x2="659.9" y2="232" stroke="#777777" stroke-width="0.8"/>
<text x="659.9" y="249" font-size="10.3" text-anchor="middle" font-weight="normal" >0.8</text>
<text x="682" y="249" font-size="10.3" text-anchor="start" font-weight="normal" >1</text>
<line x1="399.5" y1="12.5" x2="403.5" y2="12.5" stroke="#777777" stroke-width="0.8"/>
<text x="394" y="16.1" font-size="10.3" text-anchor="end" font-weight="normal" >1</text>
<line x1="399.5" y1="42.3" x2="403.5" y2="42.3" stroke="#777777" stroke-width="0.8"/>
<text x="394" y="45.9" font-size="10.3" text-anchor="end" font-weight="normal" >0.8</text>
<line x1="399.5" y1="72.1" x2="403.5" y2="72.1" stroke="#777777" stroke-width="0.8"/>
<text x="394" y="75.7" font-size="10.3" text-anchor="end" font-weight="normal" >0.6</text>
<line x1="399.5" y1="102.0" x2="403.5" y2="102.0" stroke="#777777" stroke-width="0.8"/>
<text x="394" y="105.6" font-size="10.3" text-anchor="end" font-weight="normal" >0.4</text>
<line x1="399.5" y1="131.8" x2="403.5" y2="131.8" stroke="#777777" stroke-width="0.8"/>
<text x="394" y="135.4" font-size="10.3" text-anchor="end" font-weight="normal" >0.2</text>
<line x1="399.5" y1="161.6" x2="403.5" y2="161.6" stroke="#777777" stroke-width="0.8"/>
<text x="394" y="165.2" font-size="10.3" text-anchor="end" font-weight="normal" >0</text>
<line x1="399.5" y1="191.4" x2="403.5" y2="191.4" stroke="#777777" stroke-width="0.8"/>
<text x="394" y="195.0" font-size="10.3" text-anchor="end" font-weight="normal" >–0.2</text>
<line x1="399.5" y1="221.2" x2="403.5" y2="221.2" stroke="#777777" stroke-width="0.8"/>
<text x="394" y="224.8" font-size="10.3" text-anchor="end" font-weight="normal" >–0.4</text>
<text x="541.7" y="265" font-size="10.4" text-anchor="middle" font-weight="normal" >1st principal component</text>
<text x="0" y="0" font-size="10.4" text-anchor="middle" font-weight="normal" transform="translate(365,124) rotate(-90)">3rd principal component</text>
<text x="355.6" y="10" font-size="12" text-anchor="start" font-weight="bold" >b</text>
<circle cx="81.50" cy="342.40" r="2.75" fill="#c4c4c4" stroke="#303030" stroke-width="0.75"/>
<circle cx="81.50" cy="354.80" r="2.75" fill="#ffffff" stroke="#303030" stroke-width="0.75"/>
<circle cx="68.80" cy="372.60" r="2.75" fill="#ffffff" stroke="#303030" stroke-width="0.75"/>
<circle cx="95.80" cy="369.90" r="2.75" fill="#8e8e8e" stroke="#303030" stroke-width="0.75"/>
<circle cx="114.80" cy="378.20" r="2.75" fill="#ffffff" stroke="#303030" stroke-width="0.75"/>
<circle cx="113.60" cy="382.80" r="2.75" fill="#ffffff" stroke="#303030" stroke-width="0.75"/>
<circle cx="84.10" cy="410.20" r="2.75" fill="#ffffff" stroke="#303030" stroke-width="0.75"/>
<circle cx="112.60" cy="437.20" r="2.75" fill="#8e8e8e" stroke="#303030" stroke-width="0.75"/>
<circle cx="131.20" cy="445.70" r="2.75" fill="#8e8e8e" stroke="#303030" stroke-width="0.75"/>
<circle cx="124.70" cy="452.30" r="2.75" fill="#8e8e8e" stroke="#303030" stroke-width="0.75"/>
<circle cx="144.60" cy="453.90" r="2.75" fill="#000000" stroke="#303030" stroke-width="0.75"/>
<circle cx="165.00" cy="448.60" r="2.75" fill="#8e8e8e" stroke="#303030" stroke-width="0.75"/>
<circle cx="165.50" cy="455.00" r="2.75" fill="#000000" stroke="#303030" stroke-width="0.75"/>
<circle cx="169.40" cy="460.10" r="2.75" fill="#000000" stroke="#303030" stroke-width="0.75"/>
<circle cx="159.50" cy="462.00" r="2.75" fill="#ffffff" stroke="#303030" stroke-width="0.75"/>
<circle cx="160.10" cy="468.80" r="2.75" fill="#8e8e8e" stroke="#303030" stroke-width="0.75"/>
<circle cx="135.50" cy="473.30" r="2.75" fill="#8e8e8e" stroke="#303030" stroke-width="0.75"/>
<circle cx="138.50" cy="475.00" r="2.75" fill="#8e8e8e" stroke="#303030" stroke-width="0.75"/>
<circle cx="134.80" cy="477.20" r="2.75" fill="#8e8e8e" stroke="#303030" stroke-width="0.75"/>
<circle cx="144.50" cy="475.30" r="2.75" fill="#000000" stroke="#303030" stroke-width="0.75"/>
<circle cx="146.90" cy="492.10" r="2.75" fill="#8e8e8e" stroke="#303030" stroke-width="0.75"/>
<circle cx="185.20" cy="446.60" r="2.75" fill="#8e8e8e" stroke="#303030" stroke-width="0.75"/>
<circle cx="141.00" cy="382.90" r="2.75" fill="#ffffff" stroke="#303030" stroke-width="0.75"/>
<circle cx="181.10" cy="398.00" r="2.75" fill="#000000" stroke="#303030" stroke-width="0.75"/>
<circle cx="158.90" cy="404.80" r="2.75" fill="#c4c4c4" stroke="#303030" stroke-width="0.75"/>
<circle cx="141.40" cy="408.90" r="2.75" fill="#ffffff" stroke="#303030" stroke-width="0.75"/>
<circle cx="143.40" cy="407.40" r="2.75" fill="#8e8e8e" stroke="#303030" stroke-width="0.75"/>
<circle cx="166.80" cy="410.40" r="2.75" fill="#000000" stroke="#303030" stroke-width="0.75"/>
<circle cx="207.10" cy="410.40" r="2.75" fill="#c4c4c4" stroke="#303030" stroke-width="0.75"/>
<circle cx="147.10" cy="420.90" r="2.75" fill="#8e8e8e" stroke="#303030" stroke-width="0.75"/>
<circle cx="150.00" cy="426.00" r="2.75" fill="#c4c4c4" stroke="#303030" stroke-width="0.75"/>
<circle cx="171.20" cy="421.60" r="2.75" fill="#000000" stroke="#303030" stroke-width="0.75"/>
<circle cx="185.00" cy="418.70" r="2.75" fill="#8e8e8e" stroke="#303030" stroke-width="0.75"/>
<circle cx="186.60" cy="422.60" r="2.75" fill="#000000" stroke="#303030" stroke-width="0.75"/>
<circle cx="176.40" cy="425.70" r="2.75" fill="#000000" stroke="#303030" stroke-width="0.75"/>
<circle cx="180.70" cy="425.50" r="2.75" fill="#000000" stroke="#303030" stroke-width="0.75"/>
<circle cx="184.30" cy="427.90" r="2.75" fill="#8e8e8e" stroke="#303030" stroke-width="0.75"/>
<circle cx="200.10" cy="425.00" r="2.75" fill="#ffffff" stroke="#303030" stroke-width="0.75"/>
<circle cx="207.40" cy="426.10" r="2.75" fill="#8e8e8e" stroke="#303030" stroke-width="0.75"/>
<circle cx="160.20" cy="431.80" r="2.75" fill="#c4c4c4" stroke="#303030" stroke-width="0.75"/>
<circle cx="189.60" cy="435.20" r="2.75" fill="#000000" stroke="#303030" stroke-width="0.75"/>
<circle cx="189.10" cy="439.60" r="2.75" fill="#000000" stroke="#303030" stroke-width="0.75"/>
<circle cx="180.10" cy="439.60" r="2.75" fill="#000000" stroke="#303030" stroke-width="0.75"/>
<circle cx="194.20" cy="439.10" r="2.75" fill="#c4c4c4" stroke="#303030" stroke-width="0.75"/>
<circle cx="200.10" cy="437.70" r="2.75" fill="#ffffff" stroke="#303030" stroke-width="0.75"/>
<circle cx="195.70" cy="453.30" r="2.75" fill="#ffffff" stroke="#303030" stroke-width="0.75"/>
<circle cx="235.70" cy="383.60" r="2.75" fill="#ffffff" stroke="#303030" stroke-width="0.75"/>
<circle cx="242.30" cy="385.10" r="2.75" fill="#ffffff" stroke="#303030" stroke-width="0.75"/>
<circle cx="235.00" cy="388.00" r="2.75" fill="#ffffff" stroke="#303030" stroke-width="0.75"/>
<circle cx="236.70" cy="408.50" r="2.75" fill="#ffffff" stroke="#303030" stroke-width="0.75"/>
<circle cx="254.00" cy="411.00" r="2.75" fill="#ffffff" stroke="#303030" stroke-width="0.75"/>
<circle cx="231.30" cy="413.90" r="2.75" fill="#ffffff" stroke="#303030" stroke-width="0.75"/>
<circle cx="237.90" cy="418.00" r="2.75" fill="#ffffff" stroke="#303030" stroke-width="0.75"/>
<circle cx="221.00" cy="423.40" r="2.75" fill="#ffffff" stroke="#303030" stroke-width="0.75"/>
<circle cx="221.10" cy="435.00" r="2.75" fill="#ffffff" stroke="#303030" stroke-width="0.75"/>
<circle cx="214.50" cy="453.00" r="2.75" fill="#ffffff" stroke="#303030" stroke-width="0.75"/>
<circle cx="178.90" cy="345.80" r="2.75" fill="#c4c4c4" stroke="#303030" stroke-width="0.75"/>
<circle cx="200.10" cy="369.10" r="2.75" fill="#c4c4c4" stroke="#303030" stroke-width="0.75"/>
<circle cx="180.70" cy="373.80" r="2.75" fill="#ffffff" stroke="#303030" stroke-width="0.75"/>
<circle cx="146.40" cy="346.10" r="2.75" fill="#ffffff" stroke="#303030" stroke-width="0.75"/>
<circle cx="303.60" cy="376.80" r="2.75" fill="#ffffff" stroke="#303030" stroke-width="0.75"/>
<circle cx="193.70" cy="471.90" r="2.75" fill="#8e8e8e" stroke="#303030" stroke-width="0.75"/>
<circle cx="237.30" cy="375.40" r="2.75" fill="#ffffff" stroke="#303030" stroke-width="0.75"/>
<line x1="45.5" y1="420.5" x2="330.5" y2="420.5" stroke="#e87075" stroke-width="1.1"/>
<line x1="171.6" y1="293" x2="171.6" y2="516" stroke="#ef9c9e" stroke-width="1.1"/>
<path d="M45.5,293 L45.5,516.3 L330.5,516.3" fill="none" stroke="#777777" stroke-width="1"/>
<line x1="76.3" y1="516" x2="76.3" y2="512" stroke="#777777" stroke-width="0.8"/>
<text x="76.3" y="529.5" font-size="10.3" text-anchor="middle" font-weight="normal" >–0.6</text>
<line x1="108.1" y1="516" x2="108.1" y2="512" stroke="#777777" stroke-width="0.8"/>
<text x="108.1" y="529.5" font-size="10.3" text-anchor="middle" font-weight="normal" >–0.4</text>
<line x1="139.9" y1="516" x2="139.9" y2="512" stroke="#777777" stroke-width="0.8"/>
<text x="139.9" y="529.5" font-size="10.3" text-anchor="middle" font-weight="normal" >–0.2</text>
<line x1="171.7" y1="516" x2="171.7" y2="512" stroke="#777777" stroke-width="0.8"/>
<text x="171.7" y="529.5" font-size="10.3" text-anchor="middle" font-weight="normal" >0</text>
<line x1="203.5" y1="516" x2="203.5" y2="512" stroke="#777777" stroke-width="0.8"/>
<text x="203.5" y="529.5" font-size="10.3" text-anchor="middle" font-weight="normal" >0.2</text>
<line x1="235.3" y1="516" x2="235.3" y2="512" stroke="#777777" stroke-width="0.8"/>
<text x="235.3" y="529.5" font-size="10.3" text-anchor="middle" font-weight="normal" >0.4</text>
<line x1="267.1" y1="516" x2="267.1" y2="512" stroke="#777777" stroke-width="0.8"/>
<text x="267.1" y="529.5" font-size="10.3" text-anchor="middle" font-weight="normal" >0 .6</text>
<line x1="298.9" y1="516" x2="298.9" y2="512" stroke="#777777" stroke-width="0.8"/>
<text x="298.9" y="529.5" font-size="10.3" text-anchor="middle" font-weight="normal" >0. 8</text>
<line x1="45.5" y1="293.9" x2="49.5" y2="293.9" stroke="#777777" stroke-width="0.8"/>
<text x="41" y="297.5" font-size="10.3" text-anchor="end" font-weight="normal" >0.8</text>
<line x1="45.5" y1="325.5" x2="49.5" y2="325.5" stroke="#777777" stroke-width="0.8"/>
<text x="41" y="329.1" font-size="10.3" text-anchor="end" font-weight="normal" >0.6</text>
<line x1="45.5" y1="357.2" x2="49.5" y2="357.2" stroke="#777777" stroke-width="0.8"/>
<text x="41" y="360.8" font-size="10.3" text-anchor="end" font-weight="normal" >0.4</text>
<line x1="45.5" y1="388.8" x2="49.5" y2="388.8" stroke="#777777" stroke-width="0.8"/>
<text x="41" y="392.4" font-size="10.3" text-anchor="end" font-weight="normal" >0.2</text>
<line x1="45.5" y1="420.5" x2="49.5" y2="420.5" stroke="#777777" stroke-width="0.8"/>
<text x="41" y="424.1" font-size="10.3" text-anchor="end" font-weight="normal" >0</text>
<line x1="45.5" y1="452.2" x2="49.5" y2="452.2" stroke="#777777" stroke-width="0.8"/>
<text x="41" y="455.8" font-size="10.3" text-anchor="end" font-weight="normal" >–0.2</text>
<line x1="45.5" y1="483.8" x2="49.5" y2="483.8" stroke="#777777" stroke-width="0.8"/>
<text x="41" y="487.4" font-size="10.3" text-anchor="end" font-weight="normal" >–0.4</text>
<text x="41" y="519.1" font-size="10.3" text-anchor="end" font-weight="normal" >–0.6</text>
<text x="188.5" y="545" font-size="10.4" text-anchor="middle" font-weight="normal" >1st principal component</text>
<text x="0" y="0" font-size="10.4" text-anchor="middle" font-weight="normal" transform="translate(9,404.5) rotate(-90)">2nd principal component</text>
<text x="-0.5" y="291" font-size="12" text-anchor="start" font-weight="bold" >c</text>
<circle cx="437.70" cy="349.70" r="2.75" fill="#ffffff" stroke="#303030" stroke-width="0.75"/>
<circle cx="440.40" cy="374.80" r="2.75" fill="#ffffff" stroke="#303030" stroke-width="0.75"/>
<circle cx="423.80" cy="397.40" r="2.75" fill="#ffffff" stroke="#303030" stroke-width="0.75"/>
<circle cx="483.80" cy="416.50" r="2.75" fill="#8e8e8e" stroke="#303030" stroke-width="0.75"/>
<circle cx="453.10" cy="431.40" r="2.75" fill="#c4c4c4" stroke="#303030" stroke-width="0.75"/>
<circle cx="437.50" cy="442.60" r="2.75" fill="#c4c4c4" stroke="#303030" stroke-width="0.75"/>
<circle cx="491.10" cy="434.60" r="2.75" fill="#8e8e8e" stroke="#303030" stroke-width="0.75"/>
<circle cx="498.60" cy="428.90" r="2.75" fill="#8e8e8e" stroke="#303030" stroke-width="0.75"/>
<circle cx="495.60" cy="458.20" r="2.75" fill="#8e8e8e" stroke="#303030" stroke-width="0.75"/>
<circle cx="494.70" cy="462.00" r="2.75" fill="#8e8e8e" stroke="#303030" stroke-width="0.75"/>
<circle cx="505.00" cy="424.10" r="2.75" fill="#000000" stroke="#303030" stroke-width="0.75"/>
<circle cx="504.00" cy="432.80" r="2.75" fill="#8e8e8e" stroke="#303030" stroke-width="0.75"/>
<circle cx="520.80" cy="438.70" r="2.75" fill="#c4c4c4" stroke="#303030" stroke-width="0.75"/>
<circle cx="533.80" cy="404.80" r="2.75" fill="#000000" stroke="#303030" stroke-width="0.75"/>
<circle cx="539.40" cy="410.50" r="2.75" fill="#000000" stroke="#303030" stroke-width="0.75"/>
<circle cx="549.80" cy="414.80" r="2.75" fill="#000000" stroke="#303030" stroke-width="0.75"/>
<circle cx="540.00" cy="421.90" r="2.75" fill="#8e8e8e" stroke="#303030" stroke-width="0.75"/>
<circle cx="543.40" cy="431.40" r="2.75" fill="#000000" stroke="#303030" stroke-width="0.75"/>
<circle cx="543.80" cy="433.80" r="2.75" fill="#000000" stroke="#303030" stroke-width="0.75"/>
<circle cx="544.50" cy="439.70" r="2.75" fill="#000000" stroke="#303030" stroke-width="0.75"/>
<circle cx="548.70" cy="445.00" r="2.75" fill="#8e8e8e" stroke="#303030" stroke-width="0.75"/>
<circle cx="505.00" cy="448.90" r="2.75" fill="#000000" stroke="#303030" stroke-width="0.75"/>
<circle cx="508.00" cy="453.30" r="2.75" fill="#8e8e8e" stroke="#303030" stroke-width="0.75"/>
<circle cx="511.30" cy="455.90" r="2.75" fill="#c4c4c4" stroke="#303030" stroke-width="0.75"/>
<circle cx="521.80" cy="451.10" r="2.75" fill="#8e8e8e" stroke="#303030" stroke-width="0.75"/>
<circle cx="527.70" cy="448.20" r="2.75" fill="#000000" stroke="#303030" stroke-width="0.75"/>
<circle cx="532.00" cy="455.20" r="2.75" fill="#000000" stroke="#303030" stroke-width="0.75"/>
<circle cx="526.90" cy="456.60" r="2.75" fill="#8e8e8e" stroke="#303030" stroke-width="0.75"/>
<circle cx="528.80" cy="461.80" r="2.75" fill="#000000" stroke="#303030" stroke-width="0.75"/>
<circle cx="508.00" cy="462.20" r="2.75" fill="#8e8e8e" stroke="#303030" stroke-width="0.75"/>
<circle cx="522.10" cy="463.30" r="2.75" fill="#c4c4c4" stroke="#303030" stroke-width="0.75"/>
<circle cx="520.10" cy="464.40" r="2.75" fill="#c4c4c4" stroke="#303030" stroke-width="0.75"/>
<circle cx="501.40" cy="472.70" r="2.75" fill="#ffffff" stroke="#303030" stroke-width="0.75"/>
<circle cx="544.10" cy="461.70" r="2.75" fill="#ffffff" stroke="#303030" stroke-width="0.75"/>
<circle cx="548.20" cy="463.80" r="2.75" fill="#8e8e8e" stroke="#303030" stroke-width="0.75"/>
<circle cx="548.70" cy="466.00" r="2.75" fill="#8e8e8e" stroke="#303030" stroke-width="0.75"/>
<circle cx="542.30" cy="472.60" r="2.75" fill="#c4c4c4" stroke="#303030" stroke-width="0.75"/>
<circle cx="553.40" cy="403.20" r="2.75" fill="#000000" stroke="#303030" stroke-width="0.75"/>
<circle cx="558.80" cy="417.10" r="2.75" fill="#c4c4c4" stroke="#303030" stroke-width="0.75"/>
<circle cx="564.60" cy="424.40" r="2.75" fill="#ffffff" stroke="#303030" stroke-width="0.75"/>
<circle cx="564.70" cy="439.70" r="2.75" fill="#ffffff" stroke="#303030" stroke-width="0.75"/>
<circle cx="553.10" cy="447.90" r="2.75" fill="#000000" stroke="#303030" stroke-width="0.75"/>
<circle cx="558.20" cy="446.40" r="2.75" fill="#8e8e8e" stroke="#303030" stroke-width="0.75"/>
<circle cx="559.90" cy="451.80" r="2.75" fill="#ffffff" stroke="#303030" stroke-width="0.75"/>
<circle cx="565.00" cy="456.50" r="2.75" fill="#c4c4c4" stroke="#303030" stroke-width="0.75"/>
<circle cx="572.80" cy="450.80" r="2.75" fill="#8e8e8e" stroke="#303030" stroke-width="0.75"/>
<circle cx="572.30" cy="454.00" r="2.75" fill="#c4c4c4" stroke="#303030" stroke-width="0.75"/>
<circle cx="580.10" cy="447.40" r="2.75" fill="#ffffff" stroke="#303030" stroke-width="0.75"/>
<circle cx="587.40" cy="447.90" r="2.75" fill="#ffffff" stroke="#303030" stroke-width="0.75"/>
<circle cx="587.40" cy="452.80" r="2.75" fill="#ffffff" stroke="#303030" stroke-width="0.75"/>
<circle cx="602.70" cy="411.30" r="2.75" fill="#ffffff" stroke="#303030" stroke-width="0.75"/>
<circle cx="598.20" cy="440.10" r="2.75" fill="#ffffff" stroke="#303030" stroke-width="0.75"/>
<circle cx="604.20" cy="437.10" r="2.75" fill="#ffffff" stroke="#303030" stroke-width="0.75"/>
<circle cx="610.00" cy="442.60" r="2.75" fill="#ffffff" stroke="#303030" stroke-width="0.75"/>
<circle cx="605.50" cy="446.50" r="2.75" fill="#ffffff" stroke="#303030" stroke-width="0.75"/>
<circle cx="604.50" cy="448.50" r="2.75" fill="#ffffff" stroke="#303030" stroke-width="0.75"/>
<circle cx="622.90" cy="429.70" r="2.75" fill="#ffffff" stroke="#303030" stroke-width="0.75"/>
<circle cx="675.40" cy="428.80" r="2.75" fill="#ffffff" stroke="#303030" stroke-width="0.75"/>
<circle cx="520.90" cy="394.50" r="2.75" fill="#ffffff" stroke="#303030" stroke-width="0.75"/>
<circle cx="602.50" cy="389.00" r="2.75" fill="#ffffff" stroke="#303030" stroke-width="0.75"/>
<circle cx="502.00" cy="483.90" r="2.75" fill="#ffffff" stroke="#303030" stroke-width="0.75"/>
<circle cx="507.20" cy="497.00" r="2.75" fill="#ffffff" stroke="#303030" stroke-width="0.75"/>
<circle cx="471.00" cy="484.20" r="2.75" fill="#8e8e8e" stroke="#303030" stroke-width="0.75"/>
<circle cx="471.80" cy="488.30" r="2.75" fill="#ffffff" stroke="#303030" stroke-width="0.75"/>
<circle cx="473.60" cy="498.40" r="2.75" fill="#ffffff" stroke="#303030" stroke-width="0.75"/>
<line x1="399.5" y1="442.1" x2="684" y2="442.1" stroke="#efa0a0" stroke-width="1.2"/>
<line x1="534.5" y1="293" x2="534.5" y2="516" stroke="#e86a6e" stroke-width="1.1"/>
<path d="M399.5,293 L399.5,516.3 L684,516.3" fill="none" stroke="#777777" stroke-width="1"/>
<text x="398.2" y="529.5" font-size="10.3" text-anchor="middle" font-weight="normal" >–0.8</text>
<line x1="432.3" y1="516" x2="432.3" y2="512" stroke="#777777" stroke-width="0.8"/>
<text x="432.3" y="529.5" font-size="10.3" text-anchor="middle" font-weight="normal" >–0.6</text>
<line x1="466.3" y1="516" x2="466.3" y2="512" stroke="#777777" stroke-width="0.8"/>
<text x="466.3" y="529.5" font-size="10.3" text-anchor="middle" font-weight="normal" >–0.4</text>
<line x1="500.4" y1="516" x2="500.4" y2="512" stroke="#777777" stroke-width="0.8"/>
<text x="500.4" y="529.5" font-size="10.3" text-anchor="middle" font-weight="normal" >–0.2</text>
<line x1="534.4" y1="516" x2="534.4" y2="512" stroke="#777777" stroke-width="0.8"/>
<text x="534.4" y="529.5" font-size="10.3" text-anchor="middle" font-weight="normal" >0</text>
<line x1="568.4" y1="516" x2="568.4" y2="512" stroke="#777777" stroke-width="0.8"/>
<text x="568.4" y="529.5" font-size="10.3" text-anchor="middle" font-weight="normal" >0.2</text>
<line x1="602.5" y1="516" x2="602.5" y2="512" stroke="#777777" stroke-width="0.8"/>
<text x="602.5" y="529.5" font-size="10.3" text-anchor="middle" font-weight="normal" >0.4</text>
<line x1="636.5" y1="516" x2="636.5" y2="512" stroke="#777777" stroke-width="0.8"/>
<text x="636.5" y="529.5" font-size="10.3" text-anchor="middle" font-weight="normal" >0.6</text>
<line x1="670.6" y1="516" x2="670.6" y2="512" stroke="#777777" stroke-width="0.8"/>
<text x="670.6" y="529.5" font-size="10.3" text-anchor="middle" font-weight="normal" >0.8</text>
<line x1="399.5" y1="293.1" x2="403.5" y2="293.1" stroke="#777777" stroke-width="0.8"/>
<text x="394" y="296.7" font-size="10.3" text-anchor="end" font-weight="normal" >1</text>
<line x1="399.5" y1="322.9" x2="403.5" y2="322.9" stroke="#777777" stroke-width="0.8"/>
<text x="394" y="326.5" font-size="10.3" text-anchor="end" font-weight="normal" >0.8</text>
<line x1="399.5" y1="352.6" x2="403.5" y2="352.6" stroke="#777777" stroke-width="0.8"/>
<text x="394" y="356.2" font-size="10.3" text-anchor="end" font-weight="normal" >0.6</text>
<line x1="399.5" y1="382.4" x2="403.5" y2="382.4" stroke="#777777" stroke-width="0.8"/>
<text x="394" y="386.0" font-size="10.3" text-anchor="end" font-weight="normal" >0.4</text>
<line x1="399.5" y1="412.1" x2="403.5" y2="412.1" stroke="#777777" stroke-width="0.8"/>
<text x="394" y="415.7" font-size="10.3" text-anchor="end" font-weight="normal" >0.2</text>
<line x1="399.5" y1="441.9" x2="403.5" y2="441.9" stroke="#777777" stroke-width="0.8"/>
<text x="394" y="445.5" font-size="10.3" text-anchor="end" font-weight="normal" >0</text>
<line x1="399.5" y1="471.7" x2="403.5" y2="471.7" stroke="#777777" stroke-width="0.8"/>
<text x="394" y="475.3" font-size="10.3" text-anchor="end" font-weight="normal" >–0.2</text>
<line x1="399.5" y1="501.4" x2="403.5" y2="501.4" stroke="#777777" stroke-width="0.8"/>
<text x="394" y="505.0" font-size="10.3" text-anchor="end" font-weight="normal" >–0.4</text>
<text x="541.7" y="545" font-size="10.4" text-anchor="middle" font-weight="normal" >1st principal component</text>
<text x="0" y="0" font-size="10.4" text-anchor="middle" font-weight="normal" transform="translate(365,404.5) rotate(-90)">3rd principal component</text>
<text x="355" y="291" font-size="12" text-anchor="start" font-weight="bold" >d</text>
<circle cx="585.80" cy="300.80" r="2.5" fill="#fff" stroke="#333" stroke-width="0.75"/>
<text x="594" y="304.2" font-size="9.5" text-anchor="start" font-weight="normal" >High confidence</text>
<circle cx="585.80" cy="316.20" r="2.5" fill="#c4c4c4" stroke="#333" stroke-width="0.75"/>
<text x="594" y="319.59999999999997" font-size="9.5" text-anchor="start" font-weight="normal" >Moderate confidence</text>
<circle cx="585.80" cy="331.60" r="2.5" fill="#8e8e8e" stroke="#333" stroke-width="0.75"/>
<text x="594" y="335.0" font-size="9.5" text-anchor="start" font-weight="normal" >Low confidence</text>
<circle cx="585.80" cy="347.00" r="2.5" fill="#000" stroke="#333" stroke-width="0.75"/>
<text x="594" y="350.4" font-size="9.5" text-anchor="start" font-weight="normal" >No clear origin</text>
</svg></body></html>
